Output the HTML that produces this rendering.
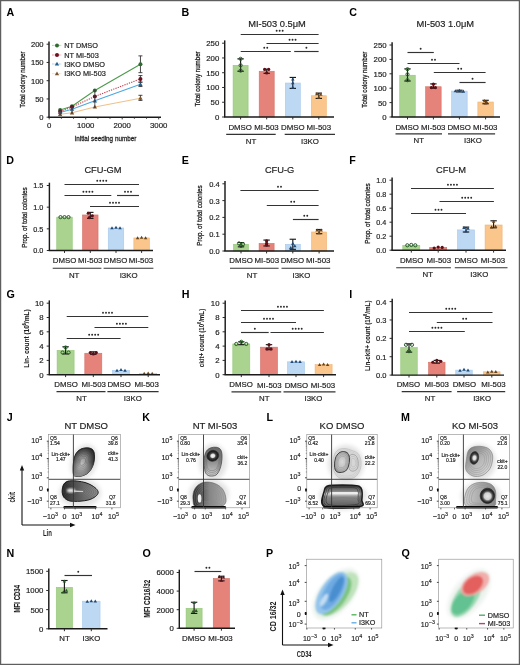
<!DOCTYPE html>
<html><head><meta charset="utf-8"><style>html,body{margin:0;padding:0;background:#fff;overflow:hidden}svg text{font-family:"Liberation Sans",sans-serif}</style></head>
<body>
<div style="position:relative;width:520px;height:665px;overflow:hidden;background:#fff">
<svg width="520" height="665" viewBox="0 0 520 665" font-family='"Liberation Sans", sans-serif' style="display:block;filter:blur(0.35px)">
<rect x="0" y="0" width="520" height="665" fill="#fff"/>
<text x="6.50" y="15.80" font-size="10.7" text-anchor="start" font-weight="bold" fill="#000" stroke="#000" stroke-width="0" >A</text>
<line x1="49.00" y1="117.20" x2="49.00" y2="41.50" stroke="#1a1a1a" stroke-width="1.45" />
<line x1="46.60" y1="117.20" x2="49.20" y2="117.20" stroke="#2a2a2a" stroke-width="1.0" />
<text x="43.60" y="120.10" font-size="7.6" text-anchor="end" font-weight="normal" fill="#1e1e1e" stroke="#1e1e1e" stroke-width="0.18" >0</text>
<line x1="46.60" y1="98.95" x2="49.20" y2="98.95" stroke="#2a2a2a" stroke-width="1.0" />
<text x="43.60" y="101.85" font-size="7.6" text-anchor="end" font-weight="normal" fill="#1e1e1e" stroke="#1e1e1e" stroke-width="0.18" >50</text>
<line x1="46.60" y1="80.70" x2="49.20" y2="80.70" stroke="#2a2a2a" stroke-width="1.0" />
<text x="43.60" y="83.60" font-size="7.6" text-anchor="end" font-weight="normal" fill="#1e1e1e" stroke="#1e1e1e" stroke-width="0.18" >100</text>
<line x1="46.60" y1="62.45" x2="49.20" y2="62.45" stroke="#2a2a2a" stroke-width="1.0" />
<text x="43.60" y="65.35" font-size="7.6" text-anchor="end" font-weight="normal" fill="#1e1e1e" stroke="#1e1e1e" stroke-width="0.18" >150</text>
<line x1="46.60" y1="44.20" x2="49.20" y2="44.20" stroke="#2a2a2a" stroke-width="1.0" />
<text x="43.60" y="47.10" font-size="7.6" text-anchor="end" font-weight="normal" fill="#1e1e1e" stroke="#1e1e1e" stroke-width="0.18" >200</text>
<line x1="48.30" y1="117.20" x2="161.00" y2="117.20" stroke="#1a1a1a" stroke-width="1.45" />
<line x1="49.20" y1="117.20" x2="49.20" y2="119.40" stroke="#2a2a2a" stroke-width="0.9" />
<line x1="61.37" y1="117.20" x2="61.37" y2="118.80" stroke="#2a2a2a" stroke-width="0.9" />
<line x1="73.53" y1="117.20" x2="73.53" y2="118.80" stroke="#2a2a2a" stroke-width="0.9" />
<line x1="85.70" y1="117.20" x2="85.70" y2="119.40" stroke="#2a2a2a" stroke-width="0.9" />
<line x1="97.87" y1="117.20" x2="97.87" y2="118.80" stroke="#2a2a2a" stroke-width="0.9" />
<line x1="110.03" y1="117.20" x2="110.03" y2="118.80" stroke="#2a2a2a" stroke-width="0.9" />
<line x1="122.20" y1="117.20" x2="122.20" y2="119.40" stroke="#2a2a2a" stroke-width="0.9" />
<line x1="134.37" y1="117.20" x2="134.37" y2="118.80" stroke="#2a2a2a" stroke-width="0.9" />
<line x1="146.53" y1="117.20" x2="146.53" y2="118.80" stroke="#2a2a2a" stroke-width="0.9" />
<line x1="158.70" y1="117.20" x2="158.70" y2="119.40" stroke="#2a2a2a" stroke-width="0.9" />
<text x="49.20" y="127.90" font-size="7.8" text-anchor="middle" font-weight="normal" fill="#1e1e1e" stroke="#1e1e1e" stroke-width="0.18" >0</text>
<text x="85.70" y="127.90" font-size="7.8" text-anchor="middle" font-weight="normal" fill="#1e1e1e" stroke="#1e1e1e" stroke-width="0.18" >1000</text>
<text x="122.20" y="127.90" font-size="7.8" text-anchor="middle" font-weight="normal" fill="#1e1e1e" stroke="#1e1e1e" stroke-width="0.18" >2000</text>
<text x="158.70" y="127.90" font-size="7.8" text-anchor="middle" font-weight="normal" fill="#1e1e1e" stroke="#1e1e1e" stroke-width="0.18" >3000</text>
<polyline points="60.15,109.90 72.01,106.25 94.83,90.56 140.45,64.28" fill="none" stroke="#4a9a4a" stroke-width="1.05" stroke-dasharray="none"/>
<polyline points="60.15,111.73 72.01,106.98 94.83,96.40 140.45,78.88" fill="none" stroke="#c8384a" stroke-width="1.05" stroke-dasharray="1.3,1.1"/>
<polyline points="60.15,112.45 72.01,109.17 94.83,100.78 140.45,84.35" fill="none" stroke="#4aa8e0" stroke-width="1.05" stroke-dasharray="none"/>
<polyline points="60.15,114.28 72.01,112.82 94.83,106.98 140.45,98.22" fill="none" stroke="#f2c08a" stroke-width="1.05" stroke-dasharray="none"/>
<circle cx="60.15" cy="109.90" r="2.0" fill="#2f6a2f"/>
<circle cx="72.01" cy="106.25" r="2.0" fill="#2f6a2f"/>
<circle cx="94.83" cy="90.56" r="2.0" fill="#2f6a2f"/>
<line x1="140.45" y1="72.67" x2="140.45" y2="55.88" stroke="#333" stroke-width="0.9" />
<line x1="138.45" y1="55.88" x2="142.45" y2="55.88" stroke="#333" stroke-width="0.9" />
<line x1="138.45" y1="72.67" x2="142.45" y2="72.67" stroke="#333" stroke-width="0.9" />
<circle cx="140.45" cy="64.28" r="2.0" fill="#2f6a2f"/>
<circle cx="60.15" cy="111.73" r="2.0" fill="#6e1020"/>
<circle cx="72.01" cy="106.98" r="2.0" fill="#6e1020"/>
<circle cx="94.83" cy="96.40" r="2.0" fill="#6e1020"/>
<line x1="140.45" y1="82.16" x2="140.45" y2="75.59" stroke="#333" stroke-width="0.9" />
<line x1="138.45" y1="75.59" x2="142.45" y2="75.59" stroke="#333" stroke-width="0.9" />
<line x1="138.45" y1="82.16" x2="142.45" y2="82.16" stroke="#333" stroke-width="0.9" />
<circle cx="140.45" cy="78.88" r="2.0" fill="#6e1020"/>
<path d="M57.95,114.05 L62.35,114.05 L60.15,110.25 Z" fill="#24608f"/>
<path d="M69.81,110.77 L74.21,110.77 L72.01,106.97 Z" fill="#24608f"/>
<path d="M92.62,102.38 L97.03,102.38 L94.83,98.58 Z" fill="#24608f"/>
<line x1="140.45" y1="86.54" x2="140.45" y2="82.16" stroke="#333" stroke-width="0.9" />
<line x1="138.45" y1="82.16" x2="142.45" y2="82.16" stroke="#333" stroke-width="0.9" />
<line x1="138.45" y1="86.54" x2="142.45" y2="86.54" stroke="#333" stroke-width="0.9" />
<path d="M138.25,85.95 L142.65,85.95 L140.45,82.15 Z" fill="#24608f"/>
<path d="M57.95,115.88 L62.35,115.88 L60.15,112.08 Z" fill="#7a5530"/>
<path d="M69.81,114.42 L74.21,114.42 L72.01,110.62 Z" fill="#7a5530"/>
<path d="M92.62,108.58 L97.03,108.58 L94.83,104.78 Z" fill="#7a5530"/>
<line x1="140.45" y1="100.41" x2="140.45" y2="95.30" stroke="#333" stroke-width="0.9" />
<line x1="138.45" y1="95.30" x2="142.45" y2="95.30" stroke="#333" stroke-width="0.9" />
<line x1="138.45" y1="100.41" x2="142.45" y2="100.41" stroke="#333" stroke-width="0.9" />
<path d="M138.25,99.82 L142.65,99.82 L140.45,96.02 Z" fill="#7a5530"/>
<line x1="60.15" y1="115.01" x2="60.15" y2="109.17" stroke="#333" stroke-width="0.8" />
<line x1="72.01" y1="113.55" x2="72.01" y2="105.52" stroke="#333" stroke-width="0.8" />
<line x1="94.83" y1="108.08" x2="94.83" y2="89.46" stroke="#333" stroke-width="0.8" />
<line x1="52.30" y1="45.40" x2="61.70" y2="45.40" stroke="#7fc07f" stroke-width="1.0" stroke-dasharray="1.3,1"/>
<circle cx="57.00" cy="45.40" r="2.0" fill="#2f6a2f"/>
<text x="64.20" y="48.10" font-size="7.35" text-anchor="start" font-weight="normal" fill="#1e1e1e" stroke="#1e1e1e" stroke-width="0.18" >NT DMSO</text>
<line x1="52.30" y1="55.00" x2="61.70" y2="55.00" stroke="#e07080" stroke-width="1.0" stroke-dasharray="1.3,1"/>
<circle cx="57.00" cy="55.00" r="2.0" fill="#6e1020"/>
<text x="64.20" y="57.70" font-size="7.35" text-anchor="start" font-weight="normal" fill="#1e1e1e" stroke="#1e1e1e" stroke-width="0.18" >NT MI-503</text>
<line x1="52.30" y1="64.00" x2="61.70" y2="64.00" stroke="#7fc0e8" stroke-width="1.0" stroke-dasharray="1.3,1"/>
<path d="M54.80,65.60 L59.20,65.60 L57.00,61.80 Z" fill="#24608f"/>
<text x="64.20" y="66.70" font-size="7.35" text-anchor="start" font-weight="normal" fill="#1e1e1e" stroke="#1e1e1e" stroke-width="0.18" >I3KO DMSO</text>
<line x1="52.30" y1="73.70" x2="61.70" y2="73.70" stroke="#f5cc9a" stroke-width="1.0" stroke-dasharray="1.3,1"/>
<path d="M54.80,75.30 L59.20,75.30 L57.00,71.50 Z" fill="#7a5530"/>
<text x="64.20" y="76.40" font-size="7.35" text-anchor="start" font-weight="normal" fill="#1e1e1e" stroke="#1e1e1e" stroke-width="0.18" >I3KO MI-503</text>
<text x="0" y="0" font-size="8" text-anchor="middle" fill="#1e1e1e" stroke="#1e1e1e" stroke-width="0.3" textLength="56.4" lengthAdjust="spacingAndGlyphs" transform="translate(25.2,79.5) rotate(-90)">Total colony number</text>
<text x="105.4" y="141.3" font-size="8" text-anchor="middle" fill="#1e1e1e" stroke="#1e1e1e" stroke-width="0.3" textLength="61.8" lengthAdjust="spacingAndGlyphs">Initial seeding number</text>
<text x="181.50" y="15.80" font-size="10.7" text-anchor="start" font-weight="bold" fill="#000" stroke="#000" stroke-width="0" >B</text>
<rect x="233.10" y="65.34" width="15.00" height="51.66" fill="#a9d38f" stroke="#93c677" stroke-width="0.6"/>
<rect x="259.20" y="71.24" width="15.00" height="45.76" fill="#e5837a" stroke="#d36f64" stroke-width="0.6"/>
<rect x="285.30" y="83.05" width="15.00" height="33.95" fill="#bdd8f2" stroke="#a5c8eb" stroke-width="0.6"/>
<rect x="311.30" y="95.75" width="15.00" height="21.25" fill="#fac68c" stroke="#efb273" stroke-width="0.6"/>
<line x1="240.60" y1="71.24" x2="240.60" y2="58.85" stroke="#1a1a1a" stroke-width="1.15" />
<line x1="237.40" y1="58.85" x2="243.80" y2="58.85" stroke="#1a1a1a" stroke-width="1.15" />
<line x1="237.40" y1="71.24" x2="243.80" y2="71.24" stroke="#1a1a1a" stroke-width="1.15" />
<circle cx="240.60" cy="58.85" r="1.6" fill="none" stroke="#255a25" stroke-width="1.0"/>
<circle cx="240.60" cy="65.34" r="1.6" fill="none" stroke="#255a25" stroke-width="1.0"/>
<circle cx="240.60" cy="70.65" r="1.6" fill="none" stroke="#255a25" stroke-width="1.0"/>
<line x1="266.70" y1="73.31" x2="266.70" y2="69.18" stroke="#1a1a1a" stroke-width="1.15" />
<line x1="263.50" y1="69.18" x2="269.90" y2="69.18" stroke="#1a1a1a" stroke-width="1.15" />
<line x1="263.50" y1="73.31" x2="269.90" y2="73.31" stroke="#1a1a1a" stroke-width="1.15" />
<circle cx="264.70" cy="69.47" r="1.6" fill="#5e0e16"/>
<circle cx="268.70" cy="69.47" r="1.6" fill="#5e0e16"/>
<circle cx="266.70" cy="73.02" r="1.6" fill="#5e0e16"/>
<line x1="292.80" y1="88.37" x2="292.80" y2="77.44" stroke="#1a1a1a" stroke-width="1.15" />
<line x1="289.60" y1="77.44" x2="296.00" y2="77.44" stroke="#1a1a1a" stroke-width="1.15" />
<line x1="289.60" y1="88.37" x2="296.00" y2="88.37" stroke="#1a1a1a" stroke-width="1.15" />
<path d="M291.04,80.49 L294.56,80.49 L292.80,77.45 Z" fill="#1d4a78"/>
<path d="M291.04,84.33 L294.56,84.33 L292.80,81.29 Z" fill="#1d4a78"/>
<path d="M291.04,88.76 L294.56,88.76 L292.80,85.72 Z" fill="#1d4a78"/>
<line x1="318.80" y1="98.40" x2="318.80" y2="93.09" stroke="#1a1a1a" stroke-width="1.15" />
<line x1="315.60" y1="93.09" x2="322.00" y2="93.09" stroke="#1a1a1a" stroke-width="1.15" />
<line x1="315.60" y1="98.40" x2="322.00" y2="98.40" stroke="#1a1a1a" stroke-width="1.15" />
<path d="M315.04,95.25 L318.56,95.25 L316.80,92.21 Z" fill="#6a4418"/>
<path d="M319.04,95.84 L322.56,95.84 L320.80,92.80 Z" fill="#6a4418"/>
<path d="M317.04,98.80 L320.56,98.80 L318.80,95.76 Z" fill="#6a4418"/>
<line x1="224.70" y1="117.00" x2="224.70" y2="40.40" stroke="#1a1a1a" stroke-width="1.45" />
<line x1="222.10" y1="117.00" x2="224.70" y2="117.00" stroke="#2a2a2a" stroke-width="1.0" />
<text x="219.30" y="119.90" font-size="7.8" text-anchor="end" font-weight="normal" fill="#1e1e1e" stroke="#1e1e1e" stroke-width="0.18" >0</text>
<line x1="222.10" y1="102.24" x2="224.70" y2="102.24" stroke="#2a2a2a" stroke-width="1.0" />
<text x="219.30" y="105.14" font-size="7.8" text-anchor="end" font-weight="normal" fill="#1e1e1e" stroke="#1e1e1e" stroke-width="0.18" >50</text>
<line x1="222.10" y1="87.48" x2="224.70" y2="87.48" stroke="#2a2a2a" stroke-width="1.0" />
<text x="219.30" y="90.38" font-size="7.8" text-anchor="end" font-weight="normal" fill="#1e1e1e" stroke="#1e1e1e" stroke-width="0.18" >100</text>
<line x1="222.10" y1="72.72" x2="224.70" y2="72.72" stroke="#2a2a2a" stroke-width="1.0" />
<text x="219.30" y="75.62" font-size="7.8" text-anchor="end" font-weight="normal" fill="#1e1e1e" stroke="#1e1e1e" stroke-width="0.18" >150</text>
<line x1="222.10" y1="57.96" x2="224.70" y2="57.96" stroke="#2a2a2a" stroke-width="1.0" />
<text x="219.30" y="60.86" font-size="7.8" text-anchor="end" font-weight="normal" fill="#1e1e1e" stroke="#1e1e1e" stroke-width="0.18" >200</text>
<line x1="222.10" y1="43.20" x2="224.70" y2="43.20" stroke="#2a2a2a" stroke-width="1.0" />
<text x="219.30" y="46.10" font-size="7.8" text-anchor="end" font-weight="normal" fill="#1e1e1e" stroke="#1e1e1e" stroke-width="0.18" >250</text>
<line x1="224.00" y1="117.00" x2="334.00" y2="117.00" stroke="#1a1a1a" stroke-width="1.45" />
<line x1="240.60" y1="117.00" x2="240.60" y2="119.40" stroke="#2a2a2a" stroke-width="1.0" />
<line x1="266.70" y1="117.00" x2="266.70" y2="119.40" stroke="#2a2a2a" stroke-width="1.0" />
<line x1="292.80" y1="117.00" x2="292.80" y2="119.40" stroke="#2a2a2a" stroke-width="1.0" />
<line x1="318.80" y1="117.00" x2="318.80" y2="119.40" stroke="#2a2a2a" stroke-width="1.0" />
<line x1="240.70" y1="34.50" x2="318.60" y2="34.50" stroke="#333" stroke-width="1.15" />
<circle cx="276.65" cy="30.70" r="0.95" fill="#2a2a2a"/>
<circle cx="279.65" cy="30.70" r="0.95" fill="#2a2a2a"/>
<circle cx="282.65" cy="30.70" r="0.95" fill="#2a2a2a"/>
<line x1="266.50" y1="43.50" x2="318.60" y2="43.50" stroke="#333" stroke-width="1.15" />
<circle cx="289.55" cy="39.70" r="0.95" fill="#2a2a2a"/>
<circle cx="292.55" cy="39.70" r="0.95" fill="#2a2a2a"/>
<circle cx="295.55" cy="39.70" r="0.95" fill="#2a2a2a"/>
<line x1="240.70" y1="51.50" x2="290.80" y2="51.50" stroke="#333" stroke-width="1.15" />
<circle cx="264.25" cy="47.70" r="0.95" fill="#2a2a2a"/>
<circle cx="267.25" cy="47.70" r="0.95" fill="#2a2a2a"/>
<line x1="294.20" y1="51.50" x2="318.60" y2="51.50" stroke="#333" stroke-width="1.15" />
<circle cx="306.40" cy="47.70" r="0.95" fill="#2a2a2a"/>
<text x="240.20" y="129.80" font-size="7.85" text-anchor="middle" font-weight="normal" fill="#1e1e1e" stroke="#1e1e1e" stroke-width="0.18" >DMSO</text>
<text x="266.50" y="129.80" font-size="7.85" text-anchor="middle" font-weight="normal" fill="#1e1e1e" stroke="#1e1e1e" stroke-width="0.18" >MI-503</text>
<text x="292.80" y="129.80" font-size="7.85" text-anchor="middle" font-weight="normal" fill="#1e1e1e" stroke="#1e1e1e" stroke-width="0.18" >DMSO</text>
<text x="318.80" y="129.80" font-size="7.85" text-anchor="middle" font-weight="normal" fill="#1e1e1e" stroke="#1e1e1e" stroke-width="0.18" >MI-503</text>
<line x1="226.20" y1="134.40" x2="275.70" y2="134.40" stroke="#333" stroke-width="1.1" />
<text x="251.00" y="144.10" font-size="7.85" text-anchor="middle" font-weight="normal" fill="#1e1e1e" stroke="#1e1e1e" stroke-width="0.18" >NT</text>
<line x1="284.70" y1="134.40" x2="335.00" y2="134.40" stroke="#333" stroke-width="1.1" />
<text x="310.00" y="144.10" font-size="7.85" text-anchor="middle" font-weight="normal" fill="#1e1e1e" stroke="#1e1e1e" stroke-width="0.18" >I3KO</text>
<text x="277.00" y="26.90" font-size="9.3" text-anchor="middle" font-weight="normal" fill="#1e1e1e" stroke="#1e1e1e" stroke-width="0.18" >MI-503 0.5&#956;M</text>
<text x="0" y="0" font-size="8" font-weight="normal" text-anchor="middle" fill="#1e1e1e" stroke="#1e1e1e" stroke-width="0.3" textLength="55" lengthAdjust="spacingAndGlyphs" transform="translate(200.40,78.90) rotate(-90)">Total colony number</text>
<text x="349.30" y="15.80" font-size="10.7" text-anchor="start" font-weight="bold" fill="#000" stroke="#000" stroke-width="0" >C</text>
<rect x="399.75" y="75.24" width="15.50" height="41.76" fill="#a9d38f" stroke="#93c677" stroke-width="0.6"/>
<rect x="425.65" y="86.76" width="15.50" height="30.24" fill="#e5837a" stroke="#d36f64" stroke-width="0.6"/>
<rect x="451.65" y="91.08" width="15.50" height="25.92" fill="#bdd8f2" stroke="#a5c8eb" stroke-width="0.6"/>
<rect x="477.85" y="102.02" width="15.50" height="14.98" fill="#fac68c" stroke="#efb273" stroke-width="0.6"/>
<line x1="407.50" y1="81.00" x2="407.50" y2="68.90" stroke="#1a1a1a" stroke-width="1.15" />
<line x1="404.30" y1="68.90" x2="410.70" y2="68.90" stroke="#1a1a1a" stroke-width="1.15" />
<line x1="404.30" y1="81.00" x2="410.70" y2="81.00" stroke="#1a1a1a" stroke-width="1.15" />
<circle cx="407.50" cy="69.19" r="1.6" fill="none" stroke="#255a25" stroke-width="1.0"/>
<circle cx="407.50" cy="74.38" r="1.6" fill="none" stroke="#255a25" stroke-width="1.0"/>
<circle cx="407.50" cy="80.14" r="1.6" fill="none" stroke="#255a25" stroke-width="1.0"/>
<line x1="433.40" y1="88.20" x2="433.40" y2="83.88" stroke="#1a1a1a" stroke-width="1.15" />
<line x1="430.20" y1="83.88" x2="436.60" y2="83.88" stroke="#1a1a1a" stroke-width="1.15" />
<line x1="430.20" y1="88.20" x2="436.60" y2="88.20" stroke="#1a1a1a" stroke-width="1.15" />
<circle cx="433.40" cy="84.17" r="1.6" fill="#5e0e16"/>
<circle cx="431.40" cy="87.62" r="1.6" fill="#5e0e16"/>
<circle cx="435.40" cy="87.62" r="1.6" fill="#5e0e16"/>
<line x1="459.40" y1="91.94" x2="459.40" y2="90.22" stroke="#1a1a1a" stroke-width="1.15" />
<line x1="456.20" y1="90.22" x2="462.60" y2="90.22" stroke="#1a1a1a" stroke-width="1.15" />
<line x1="456.20" y1="91.94" x2="462.60" y2="91.94" stroke="#1a1a1a" stroke-width="1.15" />
<path d="M453.64,92.36 L457.16,92.36 L455.40,89.32 Z" fill="#1d4a78"/>
<path d="M457.64,91.78 L461.16,91.78 L459.40,88.74 Z" fill="#1d4a78"/>
<path d="M461.64,92.65 L465.16,92.65 L463.40,89.61 Z" fill="#1d4a78"/>
<line x1="485.60" y1="103.75" x2="485.60" y2="100.30" stroke="#1a1a1a" stroke-width="1.15" />
<line x1="482.40" y1="100.30" x2="488.80" y2="100.30" stroke="#1a1a1a" stroke-width="1.15" />
<line x1="482.40" y1="103.75" x2="488.80" y2="103.75" stroke="#1a1a1a" stroke-width="1.15" />
<path d="M482.84,102.15 L486.36,102.15 L484.60,99.11 Z" fill="#6a4418"/>
<path d="M484.84,103.30 L488.36,103.30 L486.60,100.26 Z" fill="#6a4418"/>
<path d="M483.84,104.46 L487.36,104.46 L485.60,101.42 Z" fill="#6a4418"/>
<line x1="392.10" y1="117.00" x2="392.10" y2="42.20" stroke="#1a1a1a" stroke-width="1.45" />
<line x1="389.50" y1="117.00" x2="392.10" y2="117.00" stroke="#2a2a2a" stroke-width="1.0" />
<text x="386.60" y="119.90" font-size="7.8" text-anchor="end" font-weight="normal" fill="#1e1e1e" stroke="#1e1e1e" stroke-width="0.18" >0</text>
<line x1="389.50" y1="102.60" x2="392.10" y2="102.60" stroke="#2a2a2a" stroke-width="1.0" />
<text x="386.60" y="105.50" font-size="7.8" text-anchor="end" font-weight="normal" fill="#1e1e1e" stroke="#1e1e1e" stroke-width="0.18" >50</text>
<line x1="389.50" y1="88.20" x2="392.10" y2="88.20" stroke="#2a2a2a" stroke-width="1.0" />
<text x="386.60" y="91.10" font-size="7.8" text-anchor="end" font-weight="normal" fill="#1e1e1e" stroke="#1e1e1e" stroke-width="0.18" >100</text>
<line x1="389.50" y1="73.80" x2="392.10" y2="73.80" stroke="#2a2a2a" stroke-width="1.0" />
<text x="386.60" y="76.70" font-size="7.8" text-anchor="end" font-weight="normal" fill="#1e1e1e" stroke="#1e1e1e" stroke-width="0.18" >150</text>
<line x1="389.50" y1="59.40" x2="392.10" y2="59.40" stroke="#2a2a2a" stroke-width="1.0" />
<text x="386.60" y="62.30" font-size="7.8" text-anchor="end" font-weight="normal" fill="#1e1e1e" stroke="#1e1e1e" stroke-width="0.18" >200</text>
<line x1="389.50" y1="45.00" x2="392.10" y2="45.00" stroke="#2a2a2a" stroke-width="1.0" />
<text x="386.60" y="47.90" font-size="7.8" text-anchor="end" font-weight="normal" fill="#1e1e1e" stroke="#1e1e1e" stroke-width="0.18" >250</text>
<line x1="391.40" y1="117.00" x2="500.00" y2="117.00" stroke="#1a1a1a" stroke-width="1.45" />
<line x1="407.50" y1="117.00" x2="407.50" y2="119.40" stroke="#2a2a2a" stroke-width="1.0" />
<line x1="433.40" y1="117.00" x2="433.40" y2="119.40" stroke="#2a2a2a" stroke-width="1.0" />
<line x1="459.40" y1="117.00" x2="459.40" y2="119.40" stroke="#2a2a2a" stroke-width="1.0" />
<line x1="485.60" y1="117.00" x2="485.60" y2="119.40" stroke="#2a2a2a" stroke-width="1.0" />
<line x1="407.50" y1="52.50" x2="433.80" y2="52.50" stroke="#333" stroke-width="1.15" />
<circle cx="420.65" cy="48.70" r="0.95" fill="#2a2a2a"/>
<line x1="407.50" y1="63.50" x2="459.50" y2="63.50" stroke="#333" stroke-width="1.15" />
<circle cx="432.00" cy="59.70" r="0.95" fill="#2a2a2a"/>
<circle cx="435.00" cy="59.70" r="0.95" fill="#2a2a2a"/>
<line x1="433.80" y1="72.50" x2="485.60" y2="72.50" stroke="#333" stroke-width="1.15" />
<circle cx="458.20" cy="68.70" r="0.95" fill="#2a2a2a"/>
<circle cx="461.20" cy="68.70" r="0.95" fill="#2a2a2a"/>
<line x1="459.50" y1="82.50" x2="485.60" y2="82.50" stroke="#333" stroke-width="1.15" />
<circle cx="472.55" cy="78.70" r="0.95" fill="#2a2a2a"/>
<text x="407.20" y="129.50" font-size="7.85" text-anchor="middle" font-weight="normal" fill="#1e1e1e" stroke="#1e1e1e" stroke-width="0.18" >DMSO</text>
<text x="433.20" y="129.50" font-size="7.85" text-anchor="middle" font-weight="normal" fill="#1e1e1e" stroke="#1e1e1e" stroke-width="0.18" >MI-503</text>
<text x="459.20" y="129.50" font-size="7.85" text-anchor="middle" font-weight="normal" fill="#1e1e1e" stroke="#1e1e1e" stroke-width="0.18" >DMSO</text>
<text x="485.20" y="129.50" font-size="7.85" text-anchor="middle" font-weight="normal" fill="#1e1e1e" stroke="#1e1e1e" stroke-width="0.18" >MI-503</text>
<line x1="395.50" y1="133.90" x2="442.00" y2="133.90" stroke="#333" stroke-width="1.1" />
<text x="418.80" y="143.30" font-size="7.85" text-anchor="middle" font-weight="normal" fill="#1e1e1e" stroke="#1e1e1e" stroke-width="0.18" >NT</text>
<line x1="448.00" y1="133.90" x2="495.10" y2="133.90" stroke="#333" stroke-width="1.1" />
<text x="473.00" y="143.30" font-size="7.85" text-anchor="middle" font-weight="normal" fill="#1e1e1e" stroke="#1e1e1e" stroke-width="0.18" >I3KO</text>
<text x="445.30" y="27.00" font-size="9.3" text-anchor="middle" font-weight="normal" fill="#1e1e1e" stroke="#1e1e1e" stroke-width="0.18" >MI-503 1.0&#956;M</text>
<text x="0" y="0" font-size="8" font-weight="normal" text-anchor="middle" fill="#1e1e1e" stroke="#1e1e1e" stroke-width="0.3" textLength="55.9" lengthAdjust="spacingAndGlyphs" transform="translate(367.40,79.70) rotate(-90)">Total colony number</text>
<text x="6.30" y="163.90" font-size="10.7" text-anchor="start" font-weight="bold" fill="#000" stroke="#000" stroke-width="0" >D</text>
<rect x="56.75" y="217.13" width="15.50" height="33.37" fill="#a9d38f" stroke="#93c677" stroke-width="0.6"/>
<rect x="82.55" y="214.97" width="15.50" height="35.53" fill="#e5837a" stroke="#d36f64" stroke-width="0.6"/>
<rect x="108.25" y="227.97" width="15.50" height="22.53" fill="#bdd8f2" stroke="#a5c8eb" stroke-width="0.6"/>
<rect x="133.85" y="237.93" width="15.50" height="12.57" fill="#fac68c" stroke="#efb273" stroke-width="0.6"/>
<circle cx="60.50" cy="217.13" r="1.6" fill="none" stroke="#255a25" stroke-width="1.0"/>
<circle cx="64.50" cy="217.13" r="1.6" fill="none" stroke="#255a25" stroke-width="1.0"/>
<circle cx="68.50" cy="217.13" r="1.6" fill="none" stroke="#255a25" stroke-width="1.0"/>
<line x1="90.30" y1="218.43" x2="90.30" y2="212.37" stroke="#1a1a1a" stroke-width="1.15" />
<line x1="87.10" y1="212.37" x2="93.50" y2="212.37" stroke="#1a1a1a" stroke-width="1.15" />
<line x1="87.10" y1="218.43" x2="93.50" y2="218.43" stroke="#1a1a1a" stroke-width="1.15" />
<circle cx="88.30" cy="213.23" r="1.6" fill="#5e0e16"/>
<circle cx="92.30" cy="215.83" r="1.6" fill="#5e0e16"/>
<circle cx="89.30" cy="217.57" r="1.6" fill="#5e0e16"/>
<path d="M110.24,229.25 L113.76,229.25 L112.00,226.21 Z" fill="#1d4a78"/>
<path d="M114.24,228.81 L117.76,228.81 L116.00,225.77 Z" fill="#1d4a78"/>
<path d="M118.24,229.25 L121.76,229.25 L120.00,226.21 Z" fill="#1d4a78"/>
<path d="M135.84,239.21 L139.36,239.21 L137.60,236.17 Z" fill="#6a4418"/>
<path d="M139.84,238.78 L143.36,238.78 L141.60,235.74 Z" fill="#6a4418"/>
<path d="M143.84,239.21 L147.36,239.21 L145.60,236.17 Z" fill="#6a4418"/>
<line x1="49.40" y1="250.50" x2="49.40" y2="182.70" stroke="#1a1a1a" stroke-width="1.45" />
<line x1="46.80" y1="250.50" x2="49.40" y2="250.50" stroke="#2a2a2a" stroke-width="1.0" />
<text x="43.40" y="253.40" font-size="7.3" text-anchor="end" font-weight="normal" fill="#1e1e1e" stroke="#1e1e1e" stroke-width="0.18" >0.0</text>
<line x1="46.80" y1="228.83" x2="49.40" y2="228.83" stroke="#2a2a2a" stroke-width="1.0" />
<text x="43.40" y="231.73" font-size="7.3" text-anchor="end" font-weight="normal" fill="#1e1e1e" stroke="#1e1e1e" stroke-width="0.18" >0.5</text>
<line x1="46.80" y1="207.17" x2="49.40" y2="207.17" stroke="#2a2a2a" stroke-width="1.0" />
<text x="43.40" y="210.07" font-size="7.3" text-anchor="end" font-weight="normal" fill="#1e1e1e" stroke="#1e1e1e" stroke-width="0.18" >1.0</text>
<line x1="46.80" y1="185.50" x2="49.40" y2="185.50" stroke="#2a2a2a" stroke-width="1.0" />
<text x="43.40" y="188.40" font-size="7.3" text-anchor="end" font-weight="normal" fill="#1e1e1e" stroke="#1e1e1e" stroke-width="0.18" >1.5</text>
<line x1="48.70" y1="250.50" x2="153.00" y2="250.50" stroke="#1a1a1a" stroke-width="1.45" />
<line x1="64.50" y1="250.50" x2="64.50" y2="252.90" stroke="#2a2a2a" stroke-width="1.0" />
<line x1="90.30" y1="250.50" x2="90.30" y2="252.90" stroke="#2a2a2a" stroke-width="1.0" />
<line x1="116.00" y1="250.50" x2="116.00" y2="252.90" stroke="#2a2a2a" stroke-width="1.0" />
<line x1="141.60" y1="250.50" x2="141.60" y2="252.90" stroke="#2a2a2a" stroke-width="1.0" />
<line x1="64.50" y1="184.50" x2="139.00" y2="184.50" stroke="#333" stroke-width="1.15" />
<circle cx="97.25" cy="180.70" r="0.95" fill="#2a2a2a"/>
<circle cx="100.25" cy="180.70" r="0.95" fill="#2a2a2a"/>
<circle cx="103.25" cy="180.70" r="0.95" fill="#2a2a2a"/>
<circle cx="106.25" cy="180.70" r="0.95" fill="#2a2a2a"/>
<line x1="64.50" y1="195.50" x2="111.30" y2="195.50" stroke="#333" stroke-width="1.15" />
<circle cx="83.40" cy="191.70" r="0.95" fill="#2a2a2a"/>
<circle cx="86.40" cy="191.70" r="0.95" fill="#2a2a2a"/>
<circle cx="89.40" cy="191.70" r="0.95" fill="#2a2a2a"/>
<circle cx="92.40" cy="191.70" r="0.95" fill="#2a2a2a"/>
<line x1="117.00" y1="195.50" x2="139.00" y2="195.50" stroke="#333" stroke-width="1.15" />
<circle cx="125.00" cy="191.70" r="0.95" fill="#2a2a2a"/>
<circle cx="128.00" cy="191.70" r="0.95" fill="#2a2a2a"/>
<circle cx="131.00" cy="191.70" r="0.95" fill="#2a2a2a"/>
<line x1="90.00" y1="206.50" x2="139.00" y2="206.50" stroke="#333" stroke-width="1.15" />
<circle cx="110.00" cy="202.70" r="0.95" fill="#2a2a2a"/>
<circle cx="113.00" cy="202.70" r="0.95" fill="#2a2a2a"/>
<circle cx="116.00" cy="202.70" r="0.95" fill="#2a2a2a"/>
<circle cx="119.00" cy="202.70" r="0.95" fill="#2a2a2a"/>
<text x="64.60" y="263.20" font-size="7.85" text-anchor="middle" font-weight="normal" fill="#1e1e1e" stroke="#1e1e1e" stroke-width="0.18" >DMSO</text>
<text x="90.20" y="263.20" font-size="7.85" text-anchor="middle" font-weight="normal" fill="#1e1e1e" stroke="#1e1e1e" stroke-width="0.18" >MI-503</text>
<text x="115.50" y="263.20" font-size="7.85" text-anchor="middle" font-weight="normal" fill="#1e1e1e" stroke="#1e1e1e" stroke-width="0.18" >DMSO</text>
<text x="141.00" y="263.20" font-size="7.85" text-anchor="middle" font-weight="normal" fill="#1e1e1e" stroke="#1e1e1e" stroke-width="0.18" >MI-503</text>
<line x1="52.70" y1="268.30" x2="101.40" y2="268.30" stroke="#333" stroke-width="1.1" />
<text x="74.20" y="277.60" font-size="7.85" text-anchor="middle" font-weight="normal" fill="#1e1e1e" stroke="#1e1e1e" stroke-width="0.18" >NT</text>
<line x1="103.60" y1="268.30" x2="153.40" y2="268.30" stroke="#333" stroke-width="1.1" />
<text x="128.60" y="277.60" font-size="7.85" text-anchor="middle" font-weight="normal" fill="#1e1e1e" stroke="#1e1e1e" stroke-width="0.18" >I3KO</text>
<text x="103.00" y="172.60" font-size="9.3" text-anchor="middle" font-weight="normal" fill="#1e1e1e" stroke="#1e1e1e" stroke-width="0.18" >CFU-GM</text>
<text x="0" y="0" font-size="8" font-weight="normal" text-anchor="middle" fill="#1e1e1e" stroke="#1e1e1e" stroke-width="0.3" textLength="60.4" lengthAdjust="spacingAndGlyphs" transform="translate(26.80,217.50) rotate(-90)">Prop. of total colonies</text>
<text x="181.70" y="163.90" font-size="10.7" text-anchor="start" font-weight="bold" fill="#000" stroke="#000" stroke-width="0" >E</text>
<rect x="233.50" y="244.28" width="15.00" height="6.72" fill="#a9d38f" stroke="#93c677" stroke-width="0.6"/>
<rect x="259.10" y="243.44" width="15.00" height="7.56" fill="#e5837a" stroke="#d36f64" stroke-width="0.6"/>
<rect x="285.30" y="244.28" width="15.00" height="6.72" fill="#bdd8f2" stroke="#a5c8eb" stroke-width="0.6"/>
<rect x="311.60" y="232.02" width="15.00" height="18.98" fill="#fac68c" stroke="#efb273" stroke-width="0.6"/>
<line x1="241.00" y1="246.80" x2="241.00" y2="242.60" stroke="#1a1a1a" stroke-width="1.15" />
<line x1="237.80" y1="242.60" x2="244.20" y2="242.60" stroke="#1a1a1a" stroke-width="1.15" />
<line x1="237.80" y1="246.80" x2="244.20" y2="246.80" stroke="#1a1a1a" stroke-width="1.15" />
<circle cx="239.00" cy="243.44" r="1.6" fill="none" stroke="#255a25" stroke-width="1.0"/>
<circle cx="243.00" cy="244.28" r="1.6" fill="none" stroke="#255a25" stroke-width="1.0"/>
<circle cx="241.00" cy="245.96" r="1.6" fill="none" stroke="#255a25" stroke-width="1.0"/>
<line x1="266.60" y1="245.96" x2="266.60" y2="240.08" stroke="#1a1a1a" stroke-width="1.15" />
<line x1="263.40" y1="240.08" x2="269.80" y2="240.08" stroke="#1a1a1a" stroke-width="1.15" />
<line x1="263.40" y1="245.96" x2="269.80" y2="245.96" stroke="#1a1a1a" stroke-width="1.15" />
<circle cx="266.60" cy="240.92" r="1.6" fill="#5e0e16"/>
<circle cx="266.60" cy="243.44" r="1.6" fill="#5e0e16"/>
<circle cx="266.60" cy="245.12" r="1.6" fill="#5e0e16"/>
<line x1="292.80" y1="249.32" x2="292.80" y2="239.24" stroke="#1a1a1a" stroke-width="1.15" />
<line x1="289.60" y1="239.24" x2="296.00" y2="239.24" stroke="#1a1a1a" stroke-width="1.15" />
<line x1="289.60" y1="249.32" x2="296.00" y2="249.32" stroke="#1a1a1a" stroke-width="1.15" />
<path d="M289.04,248.92 L292.56,248.92 L290.80,245.88 Z" fill="#1d4a78"/>
<path d="M293.04,247.24 L296.56,247.24 L294.80,244.20 Z" fill="#1d4a78"/>
<path d="M291.04,244.72 L294.56,244.72 L292.80,241.68 Z" fill="#1d4a78"/>
<line x1="319.10" y1="233.70" x2="319.10" y2="229.50" stroke="#1a1a1a" stroke-width="1.15" />
<line x1="315.90" y1="229.50" x2="322.30" y2="229.50" stroke="#1a1a1a" stroke-width="1.15" />
<line x1="315.90" y1="233.70" x2="322.30" y2="233.70" stroke="#1a1a1a" stroke-width="1.15" />
<path d="M315.34,231.45 L318.86,231.45 L317.10,228.41 Z" fill="#6a4418"/>
<path d="M319.34,231.45 L322.86,231.45 L321.10,228.41 Z" fill="#6a4418"/>
<path d="M317.34,234.14 L320.86,234.14 L319.10,231.10 Z" fill="#6a4418"/>
<line x1="225.00" y1="251.00" x2="225.00" y2="181.00" stroke="#1a1a1a" stroke-width="1.45" />
<line x1="222.40" y1="251.00" x2="225.00" y2="251.00" stroke="#2a2a2a" stroke-width="1.0" />
<text x="219.60" y="253.90" font-size="7.5" text-anchor="end" font-weight="normal" fill="#1e1e1e" stroke="#1e1e1e" stroke-width="0.18" >0.0</text>
<line x1="222.40" y1="234.20" x2="225.00" y2="234.20" stroke="#2a2a2a" stroke-width="1.0" />
<text x="219.60" y="237.10" font-size="7.5" text-anchor="end" font-weight="normal" fill="#1e1e1e" stroke="#1e1e1e" stroke-width="0.18" >0.1</text>
<line x1="222.40" y1="217.40" x2="225.00" y2="217.40" stroke="#2a2a2a" stroke-width="1.0" />
<text x="219.60" y="220.30" font-size="7.5" text-anchor="end" font-weight="normal" fill="#1e1e1e" stroke="#1e1e1e" stroke-width="0.18" >0.2</text>
<line x1="222.40" y1="200.60" x2="225.00" y2="200.60" stroke="#2a2a2a" stroke-width="1.0" />
<text x="219.60" y="203.50" font-size="7.5" text-anchor="end" font-weight="normal" fill="#1e1e1e" stroke="#1e1e1e" stroke-width="0.18" >0.3</text>
<line x1="222.40" y1="183.80" x2="225.00" y2="183.80" stroke="#2a2a2a" stroke-width="1.0" />
<text x="219.60" y="186.70" font-size="7.5" text-anchor="end" font-weight="normal" fill="#1e1e1e" stroke="#1e1e1e" stroke-width="0.18" >0.4</text>
<line x1="224.30" y1="251.00" x2="334.00" y2="251.00" stroke="#1a1a1a" stroke-width="1.45" />
<line x1="241.00" y1="251.00" x2="241.00" y2="253.40" stroke="#2a2a2a" stroke-width="1.0" />
<line x1="266.60" y1="251.00" x2="266.60" y2="253.40" stroke="#2a2a2a" stroke-width="1.0" />
<line x1="292.80" y1="251.00" x2="292.80" y2="253.40" stroke="#2a2a2a" stroke-width="1.0" />
<line x1="319.10" y1="251.00" x2="319.10" y2="253.40" stroke="#2a2a2a" stroke-width="1.0" />
<line x1="240.40" y1="190.50" x2="318.60" y2="190.50" stroke="#333" stroke-width="1.15" />
<circle cx="278.00" cy="186.70" r="0.95" fill="#2a2a2a"/>
<circle cx="281.00" cy="186.70" r="0.95" fill="#2a2a2a"/>
<line x1="266.80" y1="205.50" x2="318.60" y2="205.50" stroke="#333" stroke-width="1.15" />
<circle cx="291.20" cy="201.70" r="0.95" fill="#2a2a2a"/>
<circle cx="294.20" cy="201.70" r="0.95" fill="#2a2a2a"/>
<line x1="292.90" y1="219.50" x2="318.60" y2="219.50" stroke="#333" stroke-width="1.15" />
<circle cx="304.25" cy="215.70" r="0.95" fill="#2a2a2a"/>
<circle cx="307.25" cy="215.70" r="0.95" fill="#2a2a2a"/>
<text x="241.00" y="263.20" font-size="7.85" text-anchor="middle" font-weight="normal" fill="#1e1e1e" stroke="#1e1e1e" stroke-width="0.18" >DMSO</text>
<text x="266.80" y="263.20" font-size="7.85" text-anchor="middle" font-weight="normal" fill="#1e1e1e" stroke="#1e1e1e" stroke-width="0.18" >MI-503</text>
<text x="292.40" y="263.20" font-size="7.85" text-anchor="middle" font-weight="normal" fill="#1e1e1e" stroke="#1e1e1e" stroke-width="0.18" >DMSO</text>
<text x="318.20" y="263.20" font-size="7.85" text-anchor="middle" font-weight="normal" fill="#1e1e1e" stroke="#1e1e1e" stroke-width="0.18" >MI-503</text>
<line x1="230.00" y1="268.30" x2="278.60" y2="268.30" stroke="#333" stroke-width="1.1" />
<text x="252.10" y="277.60" font-size="7.85" text-anchor="middle" font-weight="normal" fill="#1e1e1e" stroke="#1e1e1e" stroke-width="0.18" >NT</text>
<line x1="281.50" y1="268.30" x2="330.20" y2="268.30" stroke="#333" stroke-width="1.1" />
<text x="301.40" y="277.60" font-size="7.85" text-anchor="middle" font-weight="normal" fill="#1e1e1e" stroke="#1e1e1e" stroke-width="0.18" >I3KO</text>
<text x="279.60" y="173.00" font-size="9.3" text-anchor="middle" font-weight="normal" fill="#1e1e1e" stroke="#1e1e1e" stroke-width="0.18" >CFU-G</text>
<text x="0" y="0" font-size="8" font-weight="normal" text-anchor="middle" fill="#1e1e1e" stroke="#1e1e1e" stroke-width="0.3" textLength="60.4" lengthAdjust="spacingAndGlyphs" transform="translate(202.20,215.50) rotate(-90)">Prop. of total colonies</text>
<text x="349.20" y="163.90" font-size="10.7" text-anchor="start" font-weight="bold" fill="#000" stroke="#000" stroke-width="0" >F</text>
<rect x="402.80" y="245.30" width="17.00" height="4.90" fill="#a9d38f" stroke="#93c677" stroke-width="0.6"/>
<rect x="429.70" y="247.40" width="17.00" height="2.80" fill="#e5837a" stroke="#d36f64" stroke-width="0.6"/>
<rect x="457.50" y="229.90" width="17.00" height="20.30" fill="#bdd8f2" stroke="#a5c8eb" stroke-width="0.6"/>
<rect x="485.10" y="225.00" width="17.00" height="25.20" fill="#fac68c" stroke="#efb273" stroke-width="0.6"/>
<circle cx="407.30" cy="245.30" r="1.6" fill="none" stroke="#255a25" stroke-width="1.0"/>
<circle cx="411.30" cy="244.95" r="1.6" fill="none" stroke="#255a25" stroke-width="1.0"/>
<circle cx="415.30" cy="245.30" r="1.6" fill="none" stroke="#255a25" stroke-width="1.0"/>
<circle cx="434.20" cy="248.10" r="1.6" fill="#5e0e16"/>
<circle cx="438.20" cy="247.05" r="1.6" fill="#5e0e16"/>
<circle cx="442.20" cy="247.40" r="1.6" fill="#5e0e16"/>
<line x1="466.00" y1="232.00" x2="466.00" y2="227.10" stroke="#1a1a1a" stroke-width="1.15" />
<line x1="462.80" y1="227.10" x2="469.20" y2="227.10" stroke="#1a1a1a" stroke-width="1.15" />
<line x1="462.80" y1="232.00" x2="469.20" y2="232.00" stroke="#1a1a1a" stroke-width="1.15" />
<path d="M462.24,229.08 L465.76,229.08 L464.00,226.04 Z" fill="#1d4a78"/>
<path d="M466.24,229.78 L469.76,229.78 L468.00,226.74 Z" fill="#1d4a78"/>
<path d="M464.24,232.58 L467.76,232.58 L466.00,229.54 Z" fill="#1d4a78"/>
<line x1="493.60" y1="227.80" x2="493.60" y2="220.80" stroke="#1a1a1a" stroke-width="1.15" />
<line x1="490.40" y1="220.80" x2="496.80" y2="220.80" stroke="#1a1a1a" stroke-width="1.15" />
<line x1="490.40" y1="227.80" x2="496.80" y2="227.80" stroke="#1a1a1a" stroke-width="1.15" />
<path d="M491.84,222.78 L495.36,222.78 L493.60,219.74 Z" fill="#6a4418"/>
<path d="M489.84,228.38 L493.36,228.38 L491.60,225.34 Z" fill="#6a4418"/>
<path d="M493.84,227.68 L497.36,227.68 L495.60,224.64 Z" fill="#6a4418"/>
<line x1="392.10" y1="250.20" x2="392.10" y2="177.40" stroke="#1a1a1a" stroke-width="1.45" />
<line x1="389.50" y1="250.20" x2="392.10" y2="250.20" stroke="#2a2a2a" stroke-width="1.0" />
<text x="386.30" y="253.10" font-size="7.2" text-anchor="end" font-weight="normal" fill="#1e1e1e" stroke="#1e1e1e" stroke-width="0.18" >0.0</text>
<line x1="389.50" y1="236.20" x2="392.10" y2="236.20" stroke="#2a2a2a" stroke-width="1.0" />
<text x="386.30" y="239.10" font-size="7.2" text-anchor="end" font-weight="normal" fill="#1e1e1e" stroke="#1e1e1e" stroke-width="0.18" >0.2</text>
<line x1="389.50" y1="222.20" x2="392.10" y2="222.20" stroke="#2a2a2a" stroke-width="1.0" />
<text x="386.30" y="225.10" font-size="7.2" text-anchor="end" font-weight="normal" fill="#1e1e1e" stroke="#1e1e1e" stroke-width="0.18" >0.4</text>
<line x1="389.50" y1="208.20" x2="392.10" y2="208.20" stroke="#2a2a2a" stroke-width="1.0" />
<text x="386.30" y="211.10" font-size="7.2" text-anchor="end" font-weight="normal" fill="#1e1e1e" stroke="#1e1e1e" stroke-width="0.18" >0.6</text>
<line x1="389.50" y1="194.20" x2="392.10" y2="194.20" stroke="#2a2a2a" stroke-width="1.0" />
<text x="386.30" y="197.10" font-size="7.2" text-anchor="end" font-weight="normal" fill="#1e1e1e" stroke="#1e1e1e" stroke-width="0.18" >0.8</text>
<line x1="389.50" y1="180.20" x2="392.10" y2="180.20" stroke="#2a2a2a" stroke-width="1.0" />
<text x="386.30" y="183.10" font-size="7.2" text-anchor="end" font-weight="normal" fill="#1e1e1e" stroke="#1e1e1e" stroke-width="0.18" >1.0</text>
<line x1="391.40" y1="250.20" x2="506.00" y2="250.20" stroke="#1a1a1a" stroke-width="1.45" />
<line x1="411.30" y1="250.20" x2="411.30" y2="252.60" stroke="#2a2a2a" stroke-width="1.0" />
<line x1="438.20" y1="250.20" x2="438.20" y2="252.60" stroke="#2a2a2a" stroke-width="1.0" />
<line x1="466.00" y1="250.20" x2="466.00" y2="252.60" stroke="#2a2a2a" stroke-width="1.0" />
<line x1="493.60" y1="250.20" x2="493.60" y2="252.60" stroke="#2a2a2a" stroke-width="1.0" />
<line x1="411.00" y1="188.50" x2="493.90" y2="188.50" stroke="#333" stroke-width="1.15" />
<circle cx="447.95" cy="184.70" r="0.95" fill="#2a2a2a"/>
<circle cx="450.95" cy="184.70" r="0.95" fill="#2a2a2a"/>
<circle cx="453.95" cy="184.70" r="0.95" fill="#2a2a2a"/>
<circle cx="456.95" cy="184.70" r="0.95" fill="#2a2a2a"/>
<line x1="439.50" y1="201.50" x2="493.90" y2="201.50" stroke="#333" stroke-width="1.15" />
<circle cx="462.20" cy="197.70" r="0.95" fill="#2a2a2a"/>
<circle cx="465.20" cy="197.70" r="0.95" fill="#2a2a2a"/>
<circle cx="468.20" cy="197.70" r="0.95" fill="#2a2a2a"/>
<circle cx="471.20" cy="197.70" r="0.95" fill="#2a2a2a"/>
<line x1="411.00" y1="213.50" x2="466.00" y2="213.50" stroke="#333" stroke-width="1.15" />
<circle cx="435.50" cy="209.70" r="0.95" fill="#2a2a2a"/>
<circle cx="438.50" cy="209.70" r="0.95" fill="#2a2a2a"/>
<circle cx="441.50" cy="209.70" r="0.95" fill="#2a2a2a"/>
<text x="411.70" y="263.10" font-size="7.85" text-anchor="middle" font-weight="normal" fill="#1e1e1e" stroke="#1e1e1e" stroke-width="0.18" >DMSO</text>
<text x="438.80" y="263.10" font-size="7.85" text-anchor="middle" font-weight="normal" fill="#1e1e1e" stroke="#1e1e1e" stroke-width="0.18" >MI-503</text>
<text x="466.20" y="263.10" font-size="7.85" text-anchor="middle" font-weight="normal" fill="#1e1e1e" stroke="#1e1e1e" stroke-width="0.18" >DMSO</text>
<text x="493.00" y="263.10" font-size="7.85" text-anchor="middle" font-weight="normal" fill="#1e1e1e" stroke="#1e1e1e" stroke-width="0.18" >MI-503</text>
<line x1="396.20" y1="267.70" x2="450.90" y2="267.70" stroke="#333" stroke-width="1.1" />
<text x="427.80" y="277.40" font-size="7.85" text-anchor="middle" font-weight="normal" fill="#1e1e1e" stroke="#1e1e1e" stroke-width="0.18" >NT</text>
<line x1="454.80" y1="267.70" x2="507.50" y2="267.70" stroke="#333" stroke-width="1.1" />
<text x="479.30" y="277.40" font-size="7.85" text-anchor="middle" font-weight="normal" fill="#1e1e1e" stroke="#1e1e1e" stroke-width="0.18" >I3KO</text>
<text x="451.00" y="173.00" font-size="9.3" text-anchor="middle" font-weight="normal" fill="#1e1e1e" stroke="#1e1e1e" stroke-width="0.18" >CFU-M</text>
<text x="0" y="0" font-size="8" font-weight="normal" text-anchor="middle" fill="#1e1e1e" stroke="#1e1e1e" stroke-width="0.3" textLength="60.3" lengthAdjust="spacingAndGlyphs" transform="translate(370.00,213.60) rotate(-90)">Prop. of total colonies</text>
<text x="6.45" y="297.80" font-size="10.7" text-anchor="start" font-weight="bold" fill="#000" stroke="#000" stroke-width="0" >G</text>
<rect x="57.10" y="350.39" width="17.00" height="24.31" fill="#a9d38f" stroke="#93c677" stroke-width="0.6"/>
<rect x="84.80" y="353.25" width="17.00" height="21.45" fill="#e5837a" stroke="#d36f64" stroke-width="0.6"/>
<rect x="112.50" y="370.41" width="17.00" height="4.29" fill="#bdd8f2" stroke="#a5c8eb" stroke-width="0.6"/>
<rect x="139.70" y="373.63" width="17.00" height="1.07" fill="#fac68c" stroke="#efb273" stroke-width="0.6"/>
<line x1="65.60" y1="353.96" x2="65.60" y2="346.81" stroke="#1a1a1a" stroke-width="1.15" />
<line x1="62.40" y1="346.81" x2="68.80" y2="346.81" stroke="#1a1a1a" stroke-width="1.15" />
<line x1="62.40" y1="353.96" x2="68.80" y2="353.96" stroke="#1a1a1a" stroke-width="1.15" />
<circle cx="65.60" cy="347.53" r="1.6" fill="none" stroke="#255a25" stroke-width="1.0"/>
<circle cx="62.60" cy="352.53" r="1.6" fill="none" stroke="#255a25" stroke-width="1.0"/>
<circle cx="68.60" cy="352.53" r="1.6" fill="none" stroke="#255a25" stroke-width="1.0"/>
<line x1="93.30" y1="354.32" x2="93.30" y2="351.82" stroke="#1a1a1a" stroke-width="1.15" />
<line x1="90.10" y1="351.82" x2="96.50" y2="351.82" stroke="#1a1a1a" stroke-width="1.15" />
<line x1="90.10" y1="354.32" x2="96.50" y2="354.32" stroke="#1a1a1a" stroke-width="1.15" />
<circle cx="90.30" cy="352.53" r="1.6" fill="#5e0e16"/>
<circle cx="96.30" cy="352.53" r="1.6" fill="#5e0e16"/>
<circle cx="93.30" cy="353.96" r="1.6" fill="#5e0e16"/>
<path d="M115.24,371.69 L118.76,371.69 L117.00,368.65 Z" fill="#1d4a78"/>
<path d="M119.24,370.97 L122.76,370.97 L121.00,367.94 Z" fill="#1d4a78"/>
<path d="M123.24,371.69 L126.76,371.69 L125.00,368.65 Z" fill="#1d4a78"/>
<path d="M142.44,374.91 L145.96,374.91 L144.20,371.87 Z" fill="#6a4418"/>
<path d="M146.44,374.55 L149.96,374.55 L148.20,371.51 Z" fill="#6a4418"/>
<path d="M150.44,374.91 L153.96,374.91 L152.20,371.87 Z" fill="#6a4418"/>
<line x1="49.30" y1="374.70" x2="49.30" y2="300.40" stroke="#1a1a1a" stroke-width="1.45" />
<line x1="46.70" y1="374.70" x2="49.30" y2="374.70" stroke="#2a2a2a" stroke-width="1.0" />
<text x="43.70" y="377.60" font-size="7.8" text-anchor="end" font-weight="normal" fill="#1e1e1e" stroke="#1e1e1e" stroke-width="0.18" >0</text>
<line x1="46.70" y1="360.40" x2="49.30" y2="360.40" stroke="#2a2a2a" stroke-width="1.0" />
<text x="43.70" y="363.30" font-size="7.8" text-anchor="end" font-weight="normal" fill="#1e1e1e" stroke="#1e1e1e" stroke-width="0.18" >2</text>
<line x1="46.70" y1="346.10" x2="49.30" y2="346.10" stroke="#2a2a2a" stroke-width="1.0" />
<text x="43.70" y="349.00" font-size="7.8" text-anchor="end" font-weight="normal" fill="#1e1e1e" stroke="#1e1e1e" stroke-width="0.18" >4</text>
<line x1="46.70" y1="331.80" x2="49.30" y2="331.80" stroke="#2a2a2a" stroke-width="1.0" />
<text x="43.70" y="334.70" font-size="7.8" text-anchor="end" font-weight="normal" fill="#1e1e1e" stroke="#1e1e1e" stroke-width="0.18" >6</text>
<line x1="46.70" y1="317.50" x2="49.30" y2="317.50" stroke="#2a2a2a" stroke-width="1.0" />
<text x="43.70" y="320.40" font-size="7.8" text-anchor="end" font-weight="normal" fill="#1e1e1e" stroke="#1e1e1e" stroke-width="0.18" >8</text>
<line x1="46.70" y1="303.20" x2="49.30" y2="303.20" stroke="#2a2a2a" stroke-width="1.0" />
<text x="43.70" y="306.10" font-size="7.8" text-anchor="end" font-weight="normal" fill="#1e1e1e" stroke="#1e1e1e" stroke-width="0.18" >10</text>
<line x1="48.60" y1="374.70" x2="160.00" y2="374.70" stroke="#1a1a1a" stroke-width="1.45" />
<line x1="65.60" y1="374.70" x2="65.60" y2="377.10" stroke="#2a2a2a" stroke-width="1.0" />
<line x1="93.30" y1="374.70" x2="93.30" y2="377.10" stroke="#2a2a2a" stroke-width="1.0" />
<line x1="121.00" y1="374.70" x2="121.00" y2="377.10" stroke="#2a2a2a" stroke-width="1.0" />
<line x1="148.20" y1="374.70" x2="148.20" y2="377.10" stroke="#2a2a2a" stroke-width="1.0" />
<line x1="66.70" y1="316.50" x2="148.30" y2="316.50" stroke="#333" stroke-width="1.15" />
<circle cx="103.00" cy="312.70" r="0.95" fill="#2a2a2a"/>
<circle cx="106.00" cy="312.70" r="0.95" fill="#2a2a2a"/>
<circle cx="109.00" cy="312.70" r="0.95" fill="#2a2a2a"/>
<circle cx="112.00" cy="312.70" r="0.95" fill="#2a2a2a"/>
<line x1="94.50" y1="327.50" x2="148.30" y2="327.50" stroke="#333" stroke-width="1.15" />
<circle cx="116.90" cy="323.70" r="0.95" fill="#2a2a2a"/>
<circle cx="119.90" cy="323.70" r="0.95" fill="#2a2a2a"/>
<circle cx="122.90" cy="323.70" r="0.95" fill="#2a2a2a"/>
<circle cx="125.90" cy="323.70" r="0.95" fill="#2a2a2a"/>
<line x1="66.70" y1="338.50" x2="120.60" y2="338.50" stroke="#333" stroke-width="1.15" />
<circle cx="89.15" cy="334.70" r="0.95" fill="#2a2a2a"/>
<circle cx="92.15" cy="334.70" r="0.95" fill="#2a2a2a"/>
<circle cx="95.15" cy="334.70" r="0.95" fill="#2a2a2a"/>
<circle cx="98.15" cy="334.70" r="0.95" fill="#2a2a2a"/>
<text x="66.00" y="387.00" font-size="7.85" text-anchor="middle" font-weight="normal" fill="#1e1e1e" stroke="#1e1e1e" stroke-width="0.18" >DMSO</text>
<text x="93.70" y="387.00" font-size="7.85" text-anchor="middle" font-weight="normal" fill="#1e1e1e" stroke="#1e1e1e" stroke-width="0.18" >MI-503</text>
<text x="119.20" y="387.00" font-size="7.85" text-anchor="middle" font-weight="normal" fill="#1e1e1e" stroke="#1e1e1e" stroke-width="0.18" >DMSO</text>
<text x="146.60" y="387.00" font-size="7.85" text-anchor="middle" font-weight="normal" fill="#1e1e1e" stroke="#1e1e1e" stroke-width="0.18" >MI-503</text>
<line x1="56.50" y1="391.60" x2="105.50" y2="391.60" stroke="#333" stroke-width="1.1" />
<text x="81.50" y="400.50" font-size="7.85" text-anchor="middle" font-weight="normal" fill="#1e1e1e" stroke="#1e1e1e" stroke-width="0.18" >NT</text>
<line x1="107.40" y1="391.60" x2="158.60" y2="391.60" stroke="#333" stroke-width="1.1" />
<text x="132.80" y="400.50" font-size="7.85" text-anchor="middle" font-weight="normal" fill="#1e1e1e" stroke="#1e1e1e" stroke-width="0.18" >I3KO</text>
<text x="0" y="0" font-size="8" font-weight="bold" text-anchor="middle" fill="#1e1e1e" stroke="#1e1e1e" stroke-width="0.1" textLength="58.4" lengthAdjust="spacingAndGlyphs" transform="translate(28.60,338.60) rotate(-90)">Lin- count (10<tspan font-size="4.5" dy="-2.5">6</tspan><tspan dy="2.5">/mL)</tspan></text>
<text x="181.70" y="297.80" font-size="10.7" text-anchor="start" font-weight="bold" fill="#000" stroke="#000" stroke-width="0" >H</text>
<rect x="232.80" y="343.95" width="17.00" height="30.75" fill="#a9d38f" stroke="#93c677" stroke-width="0.6"/>
<rect x="260.50" y="347.17" width="17.00" height="27.53" fill="#e5837a" stroke="#d36f64" stroke-width="0.6"/>
<rect x="287.50" y="361.83" width="17.00" height="12.87" fill="#bdd8f2" stroke="#a5c8eb" stroke-width="0.6"/>
<rect x="315.10" y="364.69" width="17.00" height="10.01" fill="#fac68c" stroke="#efb273" stroke-width="0.6"/>
<line x1="241.30" y1="344.67" x2="241.30" y2="341.81" stroke="#1a1a1a" stroke-width="1.15" />
<line x1="238.10" y1="341.81" x2="244.50" y2="341.81" stroke="#1a1a1a" stroke-width="1.15" />
<line x1="238.10" y1="344.67" x2="244.50" y2="344.67" stroke="#1a1a1a" stroke-width="1.15" />
<circle cx="236.30" cy="343.95" r="1.6" fill="none" stroke="#255a25" stroke-width="1.0"/>
<circle cx="241.30" cy="341.81" r="1.6" fill="none" stroke="#255a25" stroke-width="1.0"/>
<circle cx="246.30" cy="343.95" r="1.6" fill="none" stroke="#255a25" stroke-width="1.0"/>
<line x1="269.00" y1="349.68" x2="269.00" y2="344.67" stroke="#1a1a1a" stroke-width="1.15" />
<line x1="265.80" y1="344.67" x2="272.20" y2="344.67" stroke="#1a1a1a" stroke-width="1.15" />
<line x1="265.80" y1="349.68" x2="272.20" y2="349.68" stroke="#1a1a1a" stroke-width="1.15" />
<circle cx="269.00" cy="344.67" r="1.6" fill="#5e0e16"/>
<circle cx="267.00" cy="348.96" r="1.6" fill="#5e0e16"/>
<circle cx="271.00" cy="348.96" r="1.6" fill="#5e0e16"/>
<path d="M290.24,363.11 L293.76,363.11 L292.00,360.07 Z" fill="#1d4a78"/>
<path d="M294.24,362.75 L297.76,362.75 L296.00,359.71 Z" fill="#1d4a78"/>
<path d="M298.24,363.11 L301.76,363.11 L300.00,360.07 Z" fill="#1d4a78"/>
<path d="M317.84,365.97 L321.36,365.97 L319.60,362.93 Z" fill="#6a4418"/>
<path d="M321.84,365.61 L325.36,365.61 L323.60,362.57 Z" fill="#6a4418"/>
<path d="M325.84,365.97 L329.36,365.97 L327.60,362.93 Z" fill="#6a4418"/>
<line x1="225.20" y1="374.70" x2="225.20" y2="300.40" stroke="#1a1a1a" stroke-width="1.45" />
<line x1="222.60" y1="374.70" x2="225.20" y2="374.70" stroke="#2a2a2a" stroke-width="1.0" />
<text x="219.50" y="377.60" font-size="7.8" text-anchor="end" font-weight="normal" fill="#1e1e1e" stroke="#1e1e1e" stroke-width="0.18" >0</text>
<line x1="222.60" y1="360.40" x2="225.20" y2="360.40" stroke="#2a2a2a" stroke-width="1.0" />
<text x="219.50" y="363.30" font-size="7.8" text-anchor="end" font-weight="normal" fill="#1e1e1e" stroke="#1e1e1e" stroke-width="0.18" >2</text>
<line x1="222.60" y1="346.10" x2="225.20" y2="346.10" stroke="#2a2a2a" stroke-width="1.0" />
<text x="219.50" y="349.00" font-size="7.8" text-anchor="end" font-weight="normal" fill="#1e1e1e" stroke="#1e1e1e" stroke-width="0.18" >4</text>
<line x1="222.60" y1="331.80" x2="225.20" y2="331.80" stroke="#2a2a2a" stroke-width="1.0" />
<text x="219.50" y="334.70" font-size="7.8" text-anchor="end" font-weight="normal" fill="#1e1e1e" stroke="#1e1e1e" stroke-width="0.18" >6</text>
<line x1="222.60" y1="317.50" x2="225.20" y2="317.50" stroke="#2a2a2a" stroke-width="1.0" />
<text x="219.50" y="320.40" font-size="7.8" text-anchor="end" font-weight="normal" fill="#1e1e1e" stroke="#1e1e1e" stroke-width="0.18" >8</text>
<line x1="222.60" y1="303.20" x2="225.20" y2="303.20" stroke="#2a2a2a" stroke-width="1.0" />
<text x="219.50" y="306.10" font-size="7.8" text-anchor="end" font-weight="normal" fill="#1e1e1e" stroke="#1e1e1e" stroke-width="0.18" >10</text>
<line x1="224.50" y1="374.70" x2="336.00" y2="374.70" stroke="#1a1a1a" stroke-width="1.45" />
<line x1="241.30" y1="374.70" x2="241.30" y2="377.10" stroke="#2a2a2a" stroke-width="1.0" />
<line x1="269.00" y1="374.70" x2="269.00" y2="377.10" stroke="#2a2a2a" stroke-width="1.0" />
<line x1="296.00" y1="374.70" x2="296.00" y2="377.10" stroke="#2a2a2a" stroke-width="1.0" />
<line x1="323.60" y1="374.70" x2="323.60" y2="377.10" stroke="#2a2a2a" stroke-width="1.0" />
<line x1="241.00" y1="310.50" x2="323.90" y2="310.50" stroke="#333" stroke-width="1.15" />
<circle cx="277.95" cy="306.70" r="0.95" fill="#2a2a2a"/>
<circle cx="280.95" cy="306.70" r="0.95" fill="#2a2a2a"/>
<circle cx="283.95" cy="306.70" r="0.95" fill="#2a2a2a"/>
<circle cx="286.95" cy="306.70" r="0.95" fill="#2a2a2a"/>
<line x1="241.00" y1="322.50" x2="296.00" y2="322.50" stroke="#333" stroke-width="1.15" />
<circle cx="264.00" cy="318.70" r="0.95" fill="#2a2a2a"/>
<circle cx="267.00" cy="318.70" r="0.95" fill="#2a2a2a"/>
<circle cx="270.00" cy="318.70" r="0.95" fill="#2a2a2a"/>
<circle cx="273.00" cy="318.70" r="0.95" fill="#2a2a2a"/>
<line x1="241.00" y1="332.50" x2="268.70" y2="332.50" stroke="#333" stroke-width="1.15" />
<circle cx="254.85" cy="328.70" r="0.95" fill="#2a2a2a"/>
<line x1="270.50" y1="332.50" x2="323.90" y2="332.50" stroke="#333" stroke-width="1.15" />
<circle cx="292.70" cy="328.70" r="0.95" fill="#2a2a2a"/>
<circle cx="295.70" cy="328.70" r="0.95" fill="#2a2a2a"/>
<circle cx="298.70" cy="328.70" r="0.95" fill="#2a2a2a"/>
<circle cx="301.70" cy="328.70" r="0.95" fill="#2a2a2a"/>
<text x="241.00" y="386.80" font-size="7.85" text-anchor="middle" font-weight="normal" fill="#1e1e1e" stroke="#1e1e1e" stroke-width="0.18" >DMSO</text>
<text x="269.30" y="388.10" font-size="7.85" text-anchor="middle" font-weight="normal" fill="#1e1e1e" stroke="#1e1e1e" stroke-width="0.18" >MI-503</text>
<text x="296.40" y="388.10" font-size="7.85" text-anchor="middle" font-weight="normal" fill="#1e1e1e" stroke="#1e1e1e" stroke-width="0.18" >DMSO</text>
<text x="322.90" y="388.10" font-size="7.85" text-anchor="middle" font-weight="normal" fill="#1e1e1e" stroke="#1e1e1e" stroke-width="0.18" >MI-503</text>
<line x1="231.50" y1="391.90" x2="281.20" y2="391.90" stroke="#333" stroke-width="1.1" />
<text x="264.30" y="401.00" font-size="7.85" text-anchor="middle" font-weight="normal" fill="#1e1e1e" stroke="#1e1e1e" stroke-width="0.18" >NT</text>
<line x1="283.50" y1="391.90" x2="335.50" y2="391.90" stroke="#333" stroke-width="1.1" />
<text x="313.50" y="401.00" font-size="7.85" text-anchor="middle" font-weight="normal" fill="#1e1e1e" stroke="#1e1e1e" stroke-width="0.18" >I3KO</text>
<text x="0" y="0" font-size="8" font-weight="bold" text-anchor="middle" fill="#1e1e1e" stroke="#1e1e1e" stroke-width="0.1" textLength="58.4" lengthAdjust="spacingAndGlyphs" transform="translate(203.60,338.00) rotate(-90)">ckit+ count (10<tspan font-size="4.5" dy="-2.5">6</tspan><tspan dy="2.5">/mL)</tspan></text>
<text x="349.20" y="297.80" font-size="10.7" text-anchor="start" font-weight="bold" fill="#000" stroke="#000" stroke-width="0" >I</text>
<rect x="400.75" y="347.54" width="16.50" height="27.56" fill="#a9d38f" stroke="#93c677" stroke-width="0.6"/>
<rect x="428.55" y="362.24" width="16.50" height="12.86" fill="#e5837a" stroke="#d36f64" stroke-width="0.6"/>
<rect x="455.75" y="370.14" width="16.50" height="4.96" fill="#bdd8f2" stroke="#a5c8eb" stroke-width="0.6"/>
<rect x="483.55" y="371.79" width="16.50" height="3.31" fill="#fac68c" stroke="#efb273" stroke-width="0.6"/>
<line x1="409.00" y1="352.13" x2="409.00" y2="343.86" stroke="#1a1a1a" stroke-width="1.15" />
<line x1="405.80" y1="343.86" x2="412.20" y2="343.86" stroke="#1a1a1a" stroke-width="1.15" />
<line x1="405.80" y1="352.13" x2="412.20" y2="352.13" stroke="#1a1a1a" stroke-width="1.15" />
<circle cx="406.00" cy="344.78" r="1.6" fill="none" stroke="#255a25" stroke-width="1.0"/>
<circle cx="412.00" cy="344.78" r="1.6" fill="none" stroke="#255a25" stroke-width="1.0"/>
<circle cx="409.00" cy="351.21" r="1.6" fill="none" stroke="#255a25" stroke-width="1.0"/>
<line x1="436.80" y1="363.16" x2="436.80" y2="360.40" stroke="#1a1a1a" stroke-width="1.15" />
<line x1="433.60" y1="360.40" x2="440.00" y2="360.40" stroke="#1a1a1a" stroke-width="1.15" />
<line x1="433.60" y1="363.16" x2="440.00" y2="363.16" stroke="#1a1a1a" stroke-width="1.15" />
<circle cx="432.80" cy="362.24" r="1.6" fill="#5e0e16"/>
<circle cx="436.80" cy="360.40" r="1.6" fill="#5e0e16"/>
<circle cx="440.80" cy="361.32" r="1.6" fill="#5e0e16"/>
<path d="M458.24,371.79 L461.76,371.79 L460.00,368.75 Z" fill="#1d4a78"/>
<path d="M462.24,370.87 L465.76,370.87 L464.00,367.83 Z" fill="#1d4a78"/>
<path d="M466.24,371.42 L469.76,371.42 L468.00,368.38 Z" fill="#1d4a78"/>
<path d="M486.04,373.44 L489.56,373.44 L487.80,370.40 Z" fill="#6a4418"/>
<path d="M490.04,372.70 L493.56,372.70 L491.80,369.67 Z" fill="#6a4418"/>
<path d="M494.04,373.07 L497.56,373.07 L495.80,370.03 Z" fill="#6a4418"/>
<line x1="392.20" y1="375.10" x2="392.20" y2="298.80" stroke="#1a1a1a" stroke-width="1.45" />
<line x1="389.60" y1="375.10" x2="392.20" y2="375.10" stroke="#2a2a2a" stroke-width="1.0" />
<text x="386.50" y="378.00" font-size="7.5" text-anchor="end" font-weight="normal" fill="#1e1e1e" stroke="#1e1e1e" stroke-width="0.18" >0.0</text>
<line x1="389.60" y1="356.73" x2="392.20" y2="356.73" stroke="#2a2a2a" stroke-width="1.0" />
<text x="386.50" y="359.62" font-size="7.5" text-anchor="end" font-weight="normal" fill="#1e1e1e" stroke="#1e1e1e" stroke-width="0.18" >0.1</text>
<line x1="389.60" y1="338.35" x2="392.20" y2="338.35" stroke="#2a2a2a" stroke-width="1.0" />
<text x="386.50" y="341.25" font-size="7.5" text-anchor="end" font-weight="normal" fill="#1e1e1e" stroke="#1e1e1e" stroke-width="0.18" >0.2</text>
<line x1="389.60" y1="319.98" x2="392.20" y2="319.98" stroke="#2a2a2a" stroke-width="1.0" />
<text x="386.50" y="322.88" font-size="7.5" text-anchor="end" font-weight="normal" fill="#1e1e1e" stroke="#1e1e1e" stroke-width="0.18" >0.3</text>
<line x1="389.60" y1="301.60" x2="392.20" y2="301.60" stroke="#2a2a2a" stroke-width="1.0" />
<text x="386.50" y="304.50" font-size="7.5" text-anchor="end" font-weight="normal" fill="#1e1e1e" stroke="#1e1e1e" stroke-width="0.18" >0.4</text>
<line x1="391.50" y1="375.10" x2="504.00" y2="375.10" stroke="#1a1a1a" stroke-width="1.45" />
<line x1="409.00" y1="375.10" x2="409.00" y2="377.50" stroke="#2a2a2a" stroke-width="1.0" />
<line x1="436.80" y1="375.10" x2="436.80" y2="377.50" stroke="#2a2a2a" stroke-width="1.0" />
<line x1="464.00" y1="375.10" x2="464.00" y2="377.50" stroke="#2a2a2a" stroke-width="1.0" />
<line x1="491.80" y1="375.10" x2="491.80" y2="377.50" stroke="#2a2a2a" stroke-width="1.0" />
<line x1="409.00" y1="312.50" x2="492.50" y2="312.50" stroke="#333" stroke-width="1.15" />
<circle cx="446.25" cy="308.70" r="0.95" fill="#2a2a2a"/>
<circle cx="449.25" cy="308.70" r="0.95" fill="#2a2a2a"/>
<circle cx="452.25" cy="308.70" r="0.95" fill="#2a2a2a"/>
<circle cx="455.25" cy="308.70" r="0.95" fill="#2a2a2a"/>
<line x1="436.80" y1="322.50" x2="492.50" y2="322.50" stroke="#333" stroke-width="1.15" />
<circle cx="463.15" cy="318.70" r="0.95" fill="#2a2a2a"/>
<circle cx="466.15" cy="318.70" r="0.95" fill="#2a2a2a"/>
<line x1="409.00" y1="331.50" x2="464.80" y2="331.50" stroke="#333" stroke-width="1.15" />
<circle cx="432.40" cy="327.70" r="0.95" fill="#2a2a2a"/>
<circle cx="435.40" cy="327.70" r="0.95" fill="#2a2a2a"/>
<circle cx="438.40" cy="327.70" r="0.95" fill="#2a2a2a"/>
<circle cx="441.40" cy="327.70" r="0.95" fill="#2a2a2a"/>
<text x="408.40" y="387.00" font-size="7.85" text-anchor="middle" font-weight="normal" fill="#1e1e1e" stroke="#1e1e1e" stroke-width="0.18" >DMSO</text>
<text x="436.70" y="387.00" font-size="7.85" text-anchor="middle" font-weight="normal" fill="#1e1e1e" stroke="#1e1e1e" stroke-width="0.18" >MI-503</text>
<text x="464.40" y="387.00" font-size="7.85" text-anchor="middle" font-weight="normal" fill="#1e1e1e" stroke="#1e1e1e" stroke-width="0.18" >DMSO</text>
<text x="493.40" y="387.00" font-size="7.85" text-anchor="middle" font-weight="normal" fill="#1e1e1e" stroke="#1e1e1e" stroke-width="0.18" >MI-503</text>
<line x1="401.70" y1="391.60" x2="451.60" y2="391.60" stroke="#333" stroke-width="1.1" />
<text x="430.10" y="400.50" font-size="7.85" text-anchor="middle" font-weight="normal" fill="#1e1e1e" stroke="#1e1e1e" stroke-width="0.18" >NT</text>
<line x1="457.10" y1="391.60" x2="505.20" y2="391.60" stroke="#333" stroke-width="1.1" />
<text x="482.10" y="400.50" font-size="7.85" text-anchor="middle" font-weight="normal" fill="#1e1e1e" stroke="#1e1e1e" stroke-width="0.18" >I3KO</text>
<text x="0" y="0" font-size="8" font-weight="bold" text-anchor="middle" fill="#1e1e1e" stroke="#1e1e1e" stroke-width="0.1" textLength="70.6" lengthAdjust="spacingAndGlyphs" transform="translate(369.80,335.80) rotate(-90)">Lin-ckit+ count (10<tspan font-size="4.5" dy="-2.5">6</tspan><tspan dy="2.5">/mL)</tspan></text>
<text x="6.50" y="556.90" font-size="10.7" text-anchor="start" font-weight="bold" fill="#000" stroke="#000" stroke-width="0" >N</text>
<rect x="56.25" y="587.40" width="16.30" height="41.40" fill="#a9d38f" stroke="#93c677" stroke-width="0.6"/>
<rect x="82.55" y="601.20" width="17.50" height="27.60" fill="#bdd8f2" stroke="#a5c8eb" stroke-width="0.6"/>
<line x1="64.40" y1="592.77" x2="64.40" y2="580.50" stroke="#1a1a1a" stroke-width="1.15" />
<line x1="61.20" y1="580.50" x2="67.60" y2="580.50" stroke="#1a1a1a" stroke-width="1.15" />
<line x1="61.20" y1="592.77" x2="67.60" y2="592.77" stroke="#1a1a1a" stroke-width="1.15" />
<path d="M62.64,582.55 L66.16,582.55 L64.40,579.51 Z" fill="#255a25"/>
<path d="M61.64,593.28 L65.16,593.28 L63.40,590.24 Z" fill="#255a25"/>
<path d="M64.64,591.75 L68.16,591.75 L66.40,588.71 Z" fill="#255a25"/>
<path d="M85.54,602.67 L89.06,602.67 L87.30,599.63 Z" fill="#1d4a78"/>
<path d="M89.54,602.29 L93.06,602.29 L91.30,599.25 Z" fill="#1d4a78"/>
<path d="M93.54,602.48 L97.06,602.48 L95.30,599.44 Z" fill="#1d4a78"/>
<line x1="48.80" y1="628.80" x2="48.80" y2="568.50" stroke="#1a1a1a" stroke-width="1.45" />
<line x1="46.20" y1="628.80" x2="48.80" y2="628.80" stroke="#2a2a2a" stroke-width="1.0" />
<text x="43.40" y="631.70" font-size="7.8" text-anchor="end" font-weight="normal" fill="#1e1e1e" stroke="#1e1e1e" stroke-width="0.18" >0</text>
<line x1="46.20" y1="609.63" x2="48.80" y2="609.63" stroke="#2a2a2a" stroke-width="1.0" />
<text x="43.40" y="612.53" font-size="7.8" text-anchor="end" font-weight="normal" fill="#1e1e1e" stroke="#1e1e1e" stroke-width="0.18" >500</text>
<line x1="46.20" y1="590.47" x2="48.80" y2="590.47" stroke="#2a2a2a" stroke-width="1.0" />
<text x="43.40" y="593.37" font-size="7.8" text-anchor="end" font-weight="normal" fill="#1e1e1e" stroke="#1e1e1e" stroke-width="0.18" >1000</text>
<line x1="46.20" y1="571.30" x2="48.80" y2="571.30" stroke="#2a2a2a" stroke-width="1.0" />
<text x="43.40" y="574.20" font-size="7.8" text-anchor="end" font-weight="normal" fill="#1e1e1e" stroke="#1e1e1e" stroke-width="0.18" >1500</text>
<line x1="48.10" y1="628.80" x2="107.50" y2="628.80" stroke="#1a1a1a" stroke-width="1.45" />
<line x1="64.40" y1="628.80" x2="64.40" y2="631.20" stroke="#2a2a2a" stroke-width="1.0" />
<line x1="91.30" y1="628.80" x2="91.30" y2="631.20" stroke="#2a2a2a" stroke-width="1.0" />
<line x1="64.50" y1="575.50" x2="92.00" y2="575.50" stroke="#333" stroke-width="1.15" />
<circle cx="78.25" cy="571.70" r="0.95" fill="#2a2a2a"/>
<text x="64.50" y="641.30" font-size="7.85" text-anchor="middle" font-weight="normal" fill="#1e1e1e" stroke="#1e1e1e" stroke-width="0.18" >NT</text>
<text x="91.50" y="641.30" font-size="7.85" text-anchor="middle" font-weight="normal" fill="#1e1e1e" stroke="#1e1e1e" stroke-width="0.18" >I3KO</text>
<text x="0" y="0" font-size="8.6" font-weight="bold" text-anchor="middle" fill="#1e1e1e" stroke="#1e1e1e" stroke-width="0.1" textLength="27.4" lengthAdjust="spacingAndGlyphs" transform="translate(19.90,598.70) rotate(-90)">MFI CD34</text>
<text x="142.60" y="556.90" font-size="10.7" text-anchor="start" font-weight="bold" fill="#000" stroke="#000" stroke-width="0" >O</text>
<rect x="186.10" y="608.30" width="16.00" height="20.00" fill="#a9d38f" stroke="#93c677" stroke-width="0.6"/>
<rect x="213.25" y="578.54" width="16.30" height="49.75" fill="#e5837a" stroke="#d36f64" stroke-width="0.6"/>
<line x1="194.10" y1="613.42" x2="194.10" y2="602.26" stroke="#1a1a1a" stroke-width="1.15" />
<line x1="190.90" y1="602.26" x2="197.30" y2="602.26" stroke="#1a1a1a" stroke-width="1.15" />
<line x1="190.90" y1="613.42" x2="197.30" y2="613.42" stroke="#1a1a1a" stroke-width="1.15" />
<path d="M192.34,604.00 L195.86,604.00 L194.10,600.97 Z" fill="#255a25"/>
<path d="M191.34,612.84 L194.86,612.84 L193.10,609.80 Z" fill="#255a25"/>
<path d="M194.34,611.91 L197.86,611.91 L196.10,608.87 Z" fill="#255a25"/>
<line x1="221.40" y1="580.87" x2="221.40" y2="576.22" stroke="#1a1a1a" stroke-width="1.15" />
<line x1="218.20" y1="576.22" x2="224.60" y2="576.22" stroke="#1a1a1a" stroke-width="1.15" />
<line x1="218.20" y1="580.87" x2="224.60" y2="580.87" stroke="#1a1a1a" stroke-width="1.15" />
<path d="M217.64,577.96 L221.16,577.96 L219.40,574.92 Z" fill="#5e0e16"/>
<path d="M221.64,578.43 L225.16,578.43 L223.40,575.39 Z" fill="#5e0e16"/>
<path d="M219.64,581.68 L223.16,581.68 L221.40,578.64 Z" fill="#5e0e16"/>
<line x1="179.30" y1="628.30" x2="179.30" y2="569.70" stroke="#1a1a1a" stroke-width="1.45" />
<line x1="176.70" y1="628.30" x2="179.30" y2="628.30" stroke="#2a2a2a" stroke-width="1.0" />
<text x="173.90" y="631.20" font-size="7.8" text-anchor="end" font-weight="normal" fill="#1e1e1e" stroke="#1e1e1e" stroke-width="0.18" >0</text>
<line x1="176.70" y1="609.70" x2="179.30" y2="609.70" stroke="#2a2a2a" stroke-width="1.0" />
<text x="173.90" y="612.60" font-size="7.8" text-anchor="end" font-weight="normal" fill="#1e1e1e" stroke="#1e1e1e" stroke-width="0.18" >2000</text>
<line x1="176.70" y1="591.10" x2="179.30" y2="591.10" stroke="#2a2a2a" stroke-width="1.0" />
<text x="173.90" y="594.00" font-size="7.8" text-anchor="end" font-weight="normal" fill="#1e1e1e" stroke="#1e1e1e" stroke-width="0.18" >4000</text>
<line x1="176.70" y1="572.50" x2="179.30" y2="572.50" stroke="#2a2a2a" stroke-width="1.0" />
<text x="173.90" y="575.40" font-size="7.8" text-anchor="end" font-weight="normal" fill="#1e1e1e" stroke="#1e1e1e" stroke-width="0.18" >6000</text>
<line x1="178.60" y1="628.30" x2="235.00" y2="628.30" stroke="#1a1a1a" stroke-width="1.45" />
<line x1="194.10" y1="628.30" x2="194.10" y2="630.70" stroke="#2a2a2a" stroke-width="1.0" />
<line x1="221.40" y1="628.30" x2="221.40" y2="630.70" stroke="#2a2a2a" stroke-width="1.0" />
<line x1="194.50" y1="571.50" x2="221.30" y2="571.50" stroke="#333" stroke-width="1.15" />
<circle cx="206.40" cy="567.70" r="0.95" fill="#2a2a2a"/>
<circle cx="209.40" cy="567.70" r="0.95" fill="#2a2a2a"/>
<text x="193.80" y="641.00" font-size="7.85" text-anchor="middle" font-weight="normal" fill="#1e1e1e" stroke="#1e1e1e" stroke-width="0.18" >DMSO</text>
<text x="220.50" y="641.00" font-size="7.85" text-anchor="middle" font-weight="normal" fill="#1e1e1e" stroke="#1e1e1e" stroke-width="0.18" >MI-503</text>
<text x="0" y="0" font-size="8.6" font-weight="bold" text-anchor="middle" fill="#1e1e1e" stroke="#1e1e1e" stroke-width="0.1" textLength="37.9" lengthAdjust="spacingAndGlyphs" transform="translate(150.00,598.70) rotate(-90)">MFI CD16/32</text>
<defs>
<filter id="blur05" x="-20%" y="-20%" width="140%" height="140%"><feGaussianBlur stdDeviation="0.5"/></filter>
<filter id="blur1" x="-30%" y="-30%" width="160%" height="160%"><feGaussianBlur stdDeviation="1.0"/></filter>
<filter id="blur2" x="-40%" y="-40%" width="180%" height="180%"><feGaussianBlur stdDeviation="2.0"/></filter>
</defs>
<text x="6.70" y="421.30" font-size="10.7" text-anchor="start" font-weight="bold" fill="#000" stroke="#000" stroke-width="0" >J</text>
<text x="86.20" y="429.10" font-size="9.5" text-anchor="middle" font-weight="normal" fill="#1e1e1e" stroke="#1e1e1e" stroke-width="0.18" >NT DMSO</text>
<ellipse cx="84" cy="462" rx="13" ry="18" transform="rotate(20 84 462)" fill="#e3e3e3" filter="url(#blur2)"/>
<ellipse cx="80" cy="493" rx="21" ry="14" transform="rotate(0 80 493)" fill="#e3e3e3" filter="url(#blur2)"/>
<defs><radialGradient id="g1" gradientUnits="userSpaceOnUse" cx="83" cy="461" r="15.5" fx="82" fy="464" gradientTransform="translate(83 461) rotate(20) scale(0.8 1.05) translate(-83 -461)"><stop offset="0" stop-color="#bdbdbd"/><stop offset="0.4" stop-color="#939393"/><stop offset="0.65" stop-color="#5a5a5a"/><stop offset="0.82" stop-color="#333"/><stop offset="1" stop-color="#1e1e1e"/></radialGradient></defs>
<path d="M73.50,474.50 C73.03,472.78 73.03,468.92 73.20,466.00 C73.37,463.08 73.78,459.42 74.50,457.00 C75.22,454.58 76.25,452.90 77.50,451.50 C78.75,450.10 80.42,449.22 82.00,448.60 C83.58,447.98 85.42,447.77 87.00,447.80 C88.58,447.83 90.33,448.10 91.50,448.80 C92.67,449.50 93.50,450.47 94.00,452.00 C94.50,453.53 94.58,456.00 94.50,458.00 C94.42,460.00 94.08,462.08 93.50,464.00 C92.92,465.92 92.08,467.87 91.00,469.50 C89.92,471.13 88.67,472.68 87.00,473.80 C85.33,474.92 82.83,475.78 81.00,476.20 C79.17,476.62 77.25,476.58 76.00,476.30 C74.75,476.02 73.97,476.22 73.50,474.50Z" fill="url(#g1)" stroke="#1e1e1e" stroke-width="0.9" />
<path d="M74.76,472.68 C74.36,471.20 74.36,467.88 74.50,465.37 C74.65,462.86 75.00,459.71 75.62,457.63 C76.24,455.55 77.12,454.10 78.20,452.90 C79.28,451.70 80.71,450.94 82.07,450.41 C83.43,449.88 85.01,449.69 86.37,449.72 C87.73,449.75 89.24,449.98 90.24,450.58 C91.24,451.18 91.96,452.01 92.39,453.33 C92.82,454.65 92.89,456.77 92.82,458.49 C92.75,460.21 92.46,462.00 91.96,463.65 C91.46,465.30 90.74,466.98 89.81,468.38 C88.88,469.78 87.80,471.12 86.37,472.08 C84.94,473.04 82.79,473.78 81.21,474.14 C79.63,474.50 77.98,474.47 76.91,474.23 C75.83,473.98 75.16,474.16 74.76,472.68Z" fill="none" stroke="#4a4a4a" stroke-width="0.4"/>
<path d="M75.84,471.12 C75.49,469.85 75.49,466.99 75.62,464.83 C75.74,462.67 76.05,459.96 76.58,458.17 C77.11,456.38 77.88,455.14 78.80,454.10 C79.72,453.06 80.96,452.41 82.13,451.95 C83.30,451.50 84.66,451.34 85.83,451.36 C87.00,451.39 88.30,451.58 89.16,452.10 C90.02,452.62 90.64,453.34 91.01,454.47 C91.38,455.60 91.44,457.43 91.38,458.91 C91.32,460.39 91.07,461.93 90.64,463.35 C90.21,464.77 89.59,466.21 88.79,467.42 C87.99,468.63 87.06,469.78 85.83,470.60 C84.60,471.43 82.75,472.07 81.39,472.38 C80.03,472.69 78.61,472.66 77.69,472.45 C76.77,472.24 76.19,472.39 75.84,471.12Z" fill="none" stroke="#4a4a4a" stroke-width="0.4"/>
<path d="M76.92,469.56 C76.63,468.50 76.63,466.10 76.73,464.29 C76.84,462.48 77.10,460.21 77.54,458.71 C77.98,457.21 78.62,456.17 79.40,455.30 C80.18,454.43 81.21,453.88 82.19,453.50 C83.17,453.12 84.31,452.99 85.29,453.01 C86.27,453.03 87.36,453.19 88.08,453.63 C88.80,454.06 89.32,454.66 89.63,455.61 C89.94,456.56 89.99,458.09 89.94,459.33 C89.89,460.57 89.68,461.86 89.32,463.05 C88.96,464.24 88.44,465.45 87.77,466.46 C87.10,467.47 86.32,468.43 85.29,469.13 C84.26,469.82 82.71,470.36 81.57,470.61 C80.43,470.87 79.25,470.85 78.47,470.68 C77.69,470.50 77.21,470.62 76.92,469.56Z" fill="none" stroke="#4a4a4a" stroke-width="0.4"/>
<path d="M78.00,468.00 C77.77,467.14 77.77,465.21 77.85,463.75 C77.93,462.29 78.14,460.46 78.50,459.25 C78.86,458.04 79.38,457.20 80.00,456.50 C80.62,455.80 81.46,455.36 82.25,455.05 C83.04,454.74 83.96,454.63 84.75,454.65 C85.54,454.67 86.42,454.80 87.00,455.15 C87.58,455.50 88.00,455.98 88.25,456.75 C88.50,457.52 88.54,458.75 88.50,459.75 C88.46,460.75 88.29,461.79 88.00,462.75 C87.71,463.71 87.29,464.68 86.75,465.50 C86.21,466.32 85.58,467.09 84.75,467.65 C83.92,468.21 82.67,468.64 81.75,468.85 C80.83,469.06 79.88,469.04 79.25,468.90 C78.62,468.76 78.23,468.86 78.00,468.00Z" fill="none" stroke="#4a4a4a" stroke-width="0.4"/>
<path d="M79.08,466.44 C78.90,465.79 78.90,464.32 78.97,463.21 C79.03,462.10 79.19,460.71 79.46,459.79 C79.73,458.87 80.12,458.23 80.60,457.70 C81.07,457.17 81.71,456.83 82.31,456.60 C82.91,456.36 83.61,456.28 84.21,456.29 C84.81,456.31 85.48,456.41 85.92,456.67 C86.36,456.94 86.68,457.31 86.87,457.89 C87.06,458.47 87.09,459.41 87.06,460.17 C87.03,460.93 86.90,461.72 86.68,462.45 C86.46,463.18 86.14,463.92 85.73,464.54 C85.32,465.16 84.84,465.75 84.21,466.17 C83.58,466.60 82.63,466.93 81.93,467.09 C81.23,467.24 80.50,467.23 80.03,467.12 C79.56,467.02 79.26,467.09 79.08,466.44Z" fill="none" stroke="#4a4a4a" stroke-width="0.4"/>
<path d="M80.16,464.88 C80.04,464.43 80.04,463.43 80.08,462.67 C80.13,461.91 80.23,460.96 80.42,460.33 C80.61,459.70 80.88,459.26 81.20,458.90 C81.53,458.54 81.96,458.31 82.37,458.15 C82.78,457.99 83.26,457.93 83.67,457.94 C84.08,457.95 84.54,458.02 84.84,458.20 C85.14,458.38 85.36,458.63 85.49,459.03 C85.62,459.43 85.64,460.07 85.62,460.59 C85.60,461.11 85.51,461.65 85.36,462.15 C85.21,462.65 84.99,463.16 84.71,463.58 C84.43,464.00 84.10,464.41 83.67,464.70 C83.24,464.99 82.59,465.21 82.11,465.32 C81.63,465.43 81.14,465.42 80.81,465.35 C80.48,465.27 80.28,465.33 80.16,464.88Z" fill="none" stroke="#4a4a4a" stroke-width="0.4"/>
<defs><linearGradient id="g2" gradientUnits="userSpaceOnUse" x1="0" y1="462" x2="0" y2="477"><stop offset="0" stop-color="rgba(255,255,255,0)"/><stop offset="1" stop-color="rgba(235,235,235,0.55)"/></linearGradient></defs>
<path d="M73.50,474.50 C73.03,472.78 73.03,468.92 73.20,466.00 C73.37,463.08 73.78,459.42 74.50,457.00 C75.22,454.58 76.25,452.90 77.50,451.50 C78.75,450.10 80.42,449.22 82.00,448.60 C83.58,447.98 85.42,447.77 87.00,447.80 C88.58,447.83 90.33,448.10 91.50,448.80 C92.67,449.50 93.50,450.47 94.00,452.00 C94.50,453.53 94.58,456.00 94.50,458.00 C94.42,460.00 94.08,462.08 93.50,464.00 C92.92,465.92 92.08,467.87 91.00,469.50 C89.92,471.13 88.67,472.68 87.00,473.80 C85.33,474.92 82.83,475.78 81.00,476.20 C79.17,476.62 77.25,476.58 76.00,476.30 C74.75,476.02 73.97,476.22 73.50,474.50Z" fill="url(#g2)" stroke="none" stroke-width="0" />
<defs><linearGradient id="g3" gradientUnits="userSpaceOnUse" x1="62" y1="0" x2="98" y2="0"><stop offset="0" stop-color="#1c1c1c"/><stop offset="0.3" stop-color="#454545"/><stop offset="0.6" stop-color="#727272"/><stop offset="1" stop-color="#8e8e8e"/></linearGradient></defs>
<path d="M62.20,490.00 C62.37,488.42 62.70,485.92 63.50,484.50 C64.30,483.08 65.58,482.12 67.00,481.50 C68.42,480.88 70.17,480.85 72.00,480.80 C73.83,480.75 75.83,480.92 78.00,481.20 C80.17,481.48 82.83,481.87 85.00,482.50 C87.17,483.13 89.17,484.00 91.00,485.00 C92.83,486.00 94.80,487.25 96.00,488.50 C97.20,489.75 98.28,491.17 98.20,492.50 C98.12,493.83 97.03,495.28 95.50,496.50 C93.97,497.72 91.58,499.02 89.00,499.80 C86.42,500.58 83.17,501.00 80.00,501.20 C76.83,501.40 72.58,501.53 70.00,501.00 C67.42,500.47 65.75,499.17 64.50,498.00 C63.25,496.83 62.88,495.33 62.50,494.00 C62.12,492.67 62.03,491.58 62.20,490.00Z" fill="url(#g3)" stroke="#1a1a1a" stroke-width="1.0" />
<path d="M63.58,490.10 C63.73,488.68 64.03,486.42 64.75,485.15 C65.47,483.88 66.62,483.00 67.90,482.45 C69.18,481.89 70.75,481.87 72.40,481.82 C74.05,481.77 75.85,481.93 77.80,482.18 C79.75,482.44 82.15,482.78 84.10,483.35 C86.05,483.92 87.85,484.70 89.50,485.60 C91.15,486.50 92.92,487.62 94.00,488.75 C95.08,489.88 96.06,491.15 95.98,492.35 C95.91,493.55 94.93,494.86 93.55,495.95 C92.17,497.04 90.03,498.22 87.70,498.92 C85.38,499.62 82.45,500.00 79.60,500.18 C76.75,500.36 72.92,500.48 70.60,500.00 C68.27,499.52 66.78,498.35 65.65,497.30 C64.53,496.25 64.20,494.90 63.85,493.70 C63.51,492.50 63.43,491.53 63.58,490.10Z" fill="none" stroke="#555" stroke-width="0.4"/>
<path d="M64.96,490.20 C65.09,488.93 65.36,486.93 66.00,485.80 C66.64,484.67 67.67,483.89 68.80,483.40 C69.93,482.91 71.33,482.88 72.80,482.84 C74.27,482.80 75.87,482.93 77.60,483.16 C79.33,483.39 81.47,483.69 83.20,484.20 C84.93,484.71 86.53,485.40 88.00,486.20 C89.47,487.00 91.04,488.00 92.00,489.00 C92.96,490.00 93.83,491.13 93.76,492.20 C93.69,493.27 92.83,494.43 91.60,495.40 C90.37,496.37 88.47,497.41 86.40,498.04 C84.33,498.67 81.73,499.00 79.20,499.16 C76.67,499.32 73.27,499.43 71.20,499.00 C69.13,498.57 67.80,497.53 66.80,496.60 C65.80,495.67 65.51,494.47 65.20,493.40 C64.89,492.33 64.83,491.47 64.96,490.20Z" fill="none" stroke="#555" stroke-width="0.4"/>
<path d="M66.34,490.30 C66.46,489.19 66.69,487.44 67.25,486.45 C67.81,485.46 68.71,484.78 69.70,484.35 C70.69,483.92 71.92,483.90 73.20,483.86 C74.48,483.82 75.88,483.94 77.40,484.14 C78.92,484.34 80.78,484.61 82.30,485.05 C83.82,485.49 85.22,486.10 86.50,486.80 C87.78,487.50 89.16,488.38 90.00,489.25 C90.84,490.12 91.60,491.12 91.54,492.05 C91.48,492.98 90.72,494.00 89.65,494.85 C88.58,495.70 86.91,496.61 85.10,497.16 C83.29,497.71 81.02,498.00 78.80,498.14 C76.58,498.28 73.61,498.37 71.80,498.00 C69.99,497.63 68.83,496.72 67.95,495.90 C67.08,495.08 66.82,494.03 66.55,493.10 C66.28,492.17 66.22,491.41 66.34,490.30Z" fill="none" stroke="#555" stroke-width="0.4"/>
<path d="M67.72,490.40 C67.82,489.45 68.02,487.95 68.50,487.10 C68.98,486.25 69.75,485.67 70.60,485.30 C71.45,484.93 72.50,484.91 73.60,484.88 C74.70,484.85 75.90,484.95 77.20,485.12 C78.50,485.29 80.10,485.52 81.40,485.90 C82.70,486.28 83.90,486.80 85.00,487.40 C86.10,488.00 87.28,488.75 88.00,489.50 C88.72,490.25 89.37,491.10 89.32,491.90 C89.27,492.70 88.62,493.57 87.70,494.30 C86.78,495.03 85.35,495.81 83.80,496.28 C82.25,496.75 80.30,497.00 78.40,497.12 C76.50,497.24 73.95,497.32 72.40,497.00 C70.85,496.68 69.85,495.90 69.10,495.20 C68.35,494.50 68.13,493.60 67.90,492.80 C67.67,492.00 67.62,491.35 67.72,490.40Z" fill="none" stroke="#555" stroke-width="0.4"/>
<path d="M69.10,490.50 C69.18,489.71 69.35,488.46 69.75,487.75 C70.15,487.04 70.79,486.56 71.50,486.25 C72.21,485.94 73.08,485.92 74.00,485.90 C74.92,485.88 75.92,485.96 77.00,486.10 C78.08,486.24 79.42,486.43 80.50,486.75 C81.58,487.07 82.58,487.50 83.50,488.00 C84.42,488.50 85.40,489.12 86.00,489.75 C86.60,490.38 87.14,491.08 87.10,491.75 C87.06,492.42 86.52,493.14 85.75,493.75 C84.98,494.36 83.79,495.01 82.50,495.40 C81.21,495.79 79.58,496.00 78.00,496.10 C76.42,496.20 74.29,496.27 73.00,496.00 C71.71,495.73 70.88,495.08 70.25,494.50 C69.62,493.92 69.44,493.17 69.25,492.50 C69.06,491.83 69.02,491.29 69.10,490.50Z" fill="none" stroke="#555" stroke-width="0.4"/>
<path d="M70.48,490.60 C70.55,489.97 70.68,488.97 71.00,488.40 C71.32,487.83 71.83,487.45 72.40,487.20 C72.97,486.95 73.67,486.94 74.40,486.92 C75.13,486.90 75.93,486.97 76.80,487.08 C77.67,487.19 78.73,487.35 79.60,487.60 C80.47,487.85 81.27,488.20 82.00,488.60 C82.73,489.00 83.52,489.50 84.00,490.00 C84.48,490.50 84.91,491.07 84.88,491.60 C84.85,492.13 84.41,492.71 83.80,493.20 C83.19,493.69 82.23,494.21 81.20,494.52 C80.17,494.83 78.87,495.00 77.60,495.08 C76.33,495.16 74.63,495.21 73.60,495.00 C72.57,494.79 71.90,494.27 71.40,493.80 C70.90,493.33 70.75,492.73 70.60,492.20 C70.45,491.67 70.41,491.23 70.48,490.60Z" fill="none" stroke="#555" stroke-width="0.4"/>
<ellipse cx="71" cy="490.6" rx="4.2" ry="2.0" fill="#eeeeee" filter="url(#blur1)"/>
<path d="M72,491 L83,491.6" stroke="#cfcfcf" stroke-width="1.4" filter="url(#blur05)"/>
<rect x="63.4" y="506.1" width="33.199999999999996" height="2.4" rx="1.2" fill="#0a0a0a"/>
<line x1="73.40" y1="434.30" x2="73.40" y2="507.80" stroke="#333" stroke-width="0.9" />
<line x1="48.60" y1="479.30" x2="120.30" y2="479.30" stroke="#333" stroke-width="0.9" />
<rect x="48.60" y="434.30" width="71.70" height="73.50" fill="none" stroke="#8a8a8a" stroke-width="0.6"/>
<line x1="46.80" y1="441.20" x2="48.60" y2="441.20" stroke="#333" stroke-width="0.9" />
<line x1="46.80" y1="458.50" x2="48.60" y2="458.50" stroke="#333" stroke-width="0.9" />
<line x1="46.80" y1="477.80" x2="48.60" y2="477.80" stroke="#333" stroke-width="0.9" />
<line x1="46.80" y1="489.60" x2="48.60" y2="489.60" stroke="#333" stroke-width="0.9" />
<line x1="46.80" y1="501.20" x2="48.60" y2="501.20" stroke="#333" stroke-width="0.9" />
<line x1="47.60" y1="453.29" x2="48.60" y2="453.29" stroke="#555" stroke-width="0.6" />
<line x1="47.60" y1="450.25" x2="48.60" y2="450.25" stroke="#555" stroke-width="0.6" />
<line x1="47.60" y1="448.08" x2="48.60" y2="448.08" stroke="#555" stroke-width="0.6" />
<line x1="47.60" y1="446.41" x2="48.60" y2="446.41" stroke="#555" stroke-width="0.6" />
<line x1="47.60" y1="445.04" x2="48.60" y2="445.04" stroke="#555" stroke-width="0.6" />
<line x1="47.60" y1="443.88" x2="48.60" y2="443.88" stroke="#555" stroke-width="0.6" />
<line x1="47.60" y1="442.88" x2="48.60" y2="442.88" stroke="#555" stroke-width="0.6" />
<line x1="47.60" y1="441.99" x2="48.60" y2="441.99" stroke="#555" stroke-width="0.6" />
<line x1="47.60" y1="471.99" x2="48.60" y2="471.99" stroke="#555" stroke-width="0.6" />
<line x1="47.60" y1="468.59" x2="48.60" y2="468.59" stroke="#555" stroke-width="0.6" />
<line x1="47.60" y1="466.18" x2="48.60" y2="466.18" stroke="#555" stroke-width="0.6" />
<line x1="47.60" y1="464.31" x2="48.60" y2="464.31" stroke="#555" stroke-width="0.6" />
<line x1="47.60" y1="462.78" x2="48.60" y2="462.78" stroke="#555" stroke-width="0.6" />
<line x1="47.60" y1="461.49" x2="48.60" y2="461.49" stroke="#555" stroke-width="0.6" />
<line x1="47.60" y1="460.37" x2="48.60" y2="460.37" stroke="#555" stroke-width="0.6" />
<line x1="47.60" y1="459.38" x2="48.60" y2="459.38" stroke="#555" stroke-width="0.6" />
<text x="39.20" y="442.90" font-size="7.1" text-anchor="end" fill="#1e1e1e" stroke="#1e1e1e" stroke-width="0.15">10</text>
<text x="39.30" y="439.90" font-size="5.3" text-anchor="start" fill="#1e1e1e" stroke="#1e1e1e" stroke-width="0.15">5</text>
<text x="39.20" y="460.00" font-size="7.1" text-anchor="end" fill="#1e1e1e" stroke="#1e1e1e" stroke-width="0.15">10</text>
<text x="39.30" y="457.00" font-size="5.3" text-anchor="start" fill="#1e1e1e" stroke="#1e1e1e" stroke-width="0.15">4</text>
<text x="39.20" y="479.30" font-size="7.1" text-anchor="end" fill="#1e1e1e" stroke="#1e1e1e" stroke-width="0.15">10</text>
<text x="39.30" y="476.30" font-size="5.3" text-anchor="start" fill="#1e1e1e" stroke="#1e1e1e" stroke-width="0.15">3</text>
<text x="43.00" y="491.40" font-size="7.1" text-anchor="end" fill="#1e1e1e" stroke="#1e1e1e" stroke-width="0.15">0</text>
<text x="39.20" y="504.00" font-size="7.1" text-anchor="end" fill="#1e1e1e" stroke="#1e1e1e" stroke-width="0.15">&#8722;10</text>
<text x="39.30" y="501.00" font-size="5.3" text-anchor="start" fill="#1e1e1e" stroke="#1e1e1e" stroke-width="0.15">3</text>
<line x1="50.90" y1="507.80" x2="50.90" y2="509.40" stroke="#333" stroke-width="0.8" />
<line x1="64.50" y1="507.80" x2="64.50" y2="509.40" stroke="#333" stroke-width="0.8" />
<line x1="75.15" y1="507.80" x2="75.15" y2="509.40" stroke="#333" stroke-width="0.8" />
<line x1="95.55" y1="507.80" x2="95.55" y2="509.40" stroke="#333" stroke-width="0.8" />
<line x1="111.90" y1="507.80" x2="111.90" y2="509.40" stroke="#333" stroke-width="0.8" />
<text x="54.85" y="518.90" font-size="7.1" text-anchor="end" fill="#1e1e1e" stroke="#1e1e1e" stroke-width="0.15">&#8722;10</text>
<text x="54.95" y="515.90" font-size="5.3" text-anchor="start" fill="#1e1e1e" stroke="#1e1e1e" stroke-width="0.15">3</text>
<text x="64.50" y="518.90" font-size="7.1" text-anchor="middle" fill="#1e1e1e" stroke="#1e1e1e" stroke-width="0.15">0</text>
<text x="79.10" y="518.90" font-size="7.1" text-anchor="end" fill="#1e1e1e" stroke="#1e1e1e" stroke-width="0.15">10</text>
<text x="79.20" y="515.90" font-size="5.3" text-anchor="start" fill="#1e1e1e" stroke="#1e1e1e" stroke-width="0.15">3</text>
<text x="99.50" y="518.90" font-size="7.1" text-anchor="end" fill="#1e1e1e" stroke="#1e1e1e" stroke-width="0.15">10</text>
<text x="99.60" y="515.90" font-size="5.3" text-anchor="start" fill="#1e1e1e" stroke="#1e1e1e" stroke-width="0.15">4</text>
<text x="115.85" y="518.90" font-size="7.1" text-anchor="end" fill="#1e1e1e" stroke="#1e1e1e" stroke-width="0.15">10</text>
<text x="115.95" y="515.90" font-size="5.3" text-anchor="start" fill="#1e1e1e" stroke="#1e1e1e" stroke-width="0.15">5</text>
<rect x="47.00" y="488.5" width="1.6" height="3" fill="#111"/>
<text x="50.10" y="439.80" font-size="5.0" text-anchor="start" font-weight="normal" fill="#222" stroke="#222" stroke-width="0.18" >Q5</text>
<text x="50.10" y="445.30" font-size="5.0" text-anchor="start" font-weight="normal" fill="#222" stroke="#222" stroke-width="0.18" >1.54</text>
<text x="60.80" y="455.60" font-size="5.0" text-anchor="middle" font-weight="normal" fill="#222" stroke="#222" stroke-width="0.18" >Lin-ckit+</text>
<text x="60.80" y="460.90" font-size="5.0" text-anchor="middle" font-weight="normal" fill="#222" stroke="#222" stroke-width="0.18" >1.47</text>
<text x="117.70" y="439.80" font-size="5.0" text-anchor="end" font-weight="normal" fill="#222" stroke="#222" stroke-width="0.18" >Q6</text>
<text x="117.70" y="445.30" font-size="5.0" text-anchor="end" font-weight="normal" fill="#222" stroke="#222" stroke-width="0.18" >39.8</text>
<text x="118.30" y="455.10" font-size="5.0" text-anchor="end" font-weight="normal" fill="#222" stroke="#222" stroke-width="0.18" >ckit+</text>
<text x="117.90" y="460.60" font-size="5.0" text-anchor="end" font-weight="normal" fill="#222" stroke="#222" stroke-width="0.18" >41.3</text>
<text x="50.10" y="499.20" font-size="5.0" text-anchor="start" font-weight="normal" fill="#222" stroke="#222" stroke-width="0.18" >Q8</text>
<text x="50.10" y="504.80" font-size="5.0" text-anchor="start" font-weight="normal" fill="#222" stroke="#222" stroke-width="0.18" >27.1</text>
<text x="115.60" y="499.20" font-size="5.0" text-anchor="end" font-weight="normal" fill="#222" stroke="#222" stroke-width="0.18" >Q7</text>
<text x="115.60" y="504.80" font-size="5.0" text-anchor="end" font-weight="normal" fill="#222" stroke="#222" stroke-width="0.18" >31.6</text>
<text x="142.30" y="421.30" font-size="10.7" text-anchor="start" font-weight="bold" fill="#000" stroke="#000" stroke-width="0" >K</text>
<text x="215.00" y="429.10" font-size="9.5" text-anchor="middle" font-weight="normal" fill="#1e1e1e" stroke="#1e1e1e" stroke-width="0.18" >NT MI-503</text>
<ellipse cx="213" cy="462" rx="14" ry="18" transform="rotate(0 213 462)" fill="#e3e3e3" filter="url(#blur2)"/>
<ellipse cx="209" cy="494" rx="20" ry="15" transform="rotate(0 209 494)" fill="#e3e3e3" filter="url(#blur2)"/>
<defs><linearGradient id="g4" gradientUnits="userSpaceOnUse" x1="0" y1="448" x2="0" y2="476"><stop offset="0" stop-color="#6a6a6a"/><stop offset="0.45" stop-color="#8a8a8a"/><stop offset="1" stop-color="#cfcfcf"/></linearGradient></defs>
<path d="M204.50,468.00 C204.22,465.42 203.97,460.83 204.30,458.00 C204.63,455.17 205.38,452.70 206.50,451.00 C207.62,449.30 209.33,448.42 211.00,447.80 C212.67,447.18 214.92,447.02 216.50,447.30 C218.08,447.58 219.58,448.22 220.50,449.50 C221.42,450.78 221.83,452.75 222.00,455.00 C222.17,457.25 221.92,460.50 221.50,463.00 C221.08,465.50 220.42,468.00 219.50,470.00 C218.58,472.00 217.58,474.00 216.00,475.00 C214.42,476.00 211.67,476.25 210.00,476.00 C208.33,475.75 206.92,474.83 206.00,473.50 C205.08,472.17 204.78,470.58 204.50,468.00Z" fill="url(#g4)" stroke="#3a3a3a" stroke-width="0.7" />
<path d="M205.33,467.00 C205.08,464.68 204.85,460.55 205.15,458.00 C205.45,455.45 206.12,453.23 207.13,451.70 C208.13,450.17 209.68,449.38 211.18,448.82 C212.68,448.26 214.70,448.12 216.13,448.37 C217.56,448.62 218.90,449.20 219.73,450.35 C220.56,451.50 220.93,453.28 221.08,455.30 C221.23,457.32 221.00,460.25 220.63,462.50 C220.25,464.75 219.66,467.00 218.83,468.80 C218.01,470.60 217.11,472.40 215.68,473.30 C214.25,474.20 211.78,474.43 210.28,474.20 C208.78,473.97 207.50,473.15 206.68,471.95 C205.86,470.75 205.59,469.32 205.33,467.00Z" fill="none" stroke="#666" stroke-width="0.4"/>
<path d="M206.16,466.00 C205.93,463.93 205.73,460.27 206.00,458.00 C206.27,455.73 206.87,453.76 207.76,452.40 C208.65,451.04 210.03,450.33 211.36,449.84 C212.69,449.35 214.49,449.21 215.76,449.44 C217.03,449.67 218.23,450.17 218.96,451.20 C219.69,452.23 220.03,453.80 220.16,455.60 C220.29,457.40 220.09,460.00 219.76,462.00 C219.43,464.00 218.89,466.00 218.16,467.60 C217.43,469.20 216.63,470.80 215.36,471.60 C214.09,472.40 211.89,472.60 210.56,472.40 C209.23,472.20 208.09,471.47 207.36,470.40 C206.63,469.33 206.39,468.07 206.16,466.00Z" fill="none" stroke="#666" stroke-width="0.4"/>
<path d="M206.99,465.00 C206.79,463.19 206.62,459.98 206.85,458.00 C207.08,456.02 207.61,454.29 208.39,453.10 C209.17,451.91 210.37,451.29 211.54,450.86 C212.71,450.43 214.28,450.31 215.39,450.51 C216.50,450.71 217.55,451.15 218.19,452.05 C218.83,452.95 219.12,454.32 219.24,455.90 C219.36,457.47 219.18,459.75 218.89,461.50 C218.60,463.25 218.13,465.00 217.49,466.40 C216.85,467.80 216.15,469.20 215.04,469.90 C213.93,470.60 212.01,470.78 210.84,470.60 C209.67,470.43 208.68,469.78 208.04,468.85 C207.40,467.92 207.19,466.81 206.99,465.00Z" fill="none" stroke="#666" stroke-width="0.4"/>
<defs><radialGradient id="g5" gradientUnits="userSpaceOnUse" cx="212.8" cy="455.8" r="6.2" gradientTransform="translate(212.8 455.8) rotate(-20) scale(1.0 0.9) translate(-212.8 -455.8)"><stop offset="0" stop-color="#f4f4f4"/><stop offset="0.3" stop-color="#e0e0e0"/><stop offset="0.5" stop-color="#444"/><stop offset="0.8" stop-color="#1e1e1e"/><stop offset="1" stop-color="#2a2a2a"/></radialGradient></defs>
<path d="M218.44,453.75 C218.75,454.59 218.81,455.66 218.61,456.56 C218.40,457.46 217.88,458.45 217.22,459.17 C216.56,459.89 215.59,460.53 214.65,460.87 C213.71,461.22 212.55,461.35 211.58,461.22 C210.61,461.09 209.58,460.68 208.84,460.11 C208.10,459.55 207.47,458.70 207.16,457.85 C206.85,457.01 206.79,455.94 206.99,455.04 C207.20,454.14 207.72,453.15 208.38,452.43 C209.04,451.71 210.01,451.07 210.95,450.73 C211.89,450.38 213.05,450.25 214.02,450.38 C214.99,450.51 216.02,450.92 216.76,451.49 C217.50,452.05 218.13,452.90 218.44,453.75Z" fill="url(#g5)" stroke="#222" stroke-width="0.6" />
<defs><linearGradient id="g6" gradientUnits="userSpaceOnUse" x1="193" y1="0" x2="226" y2="0"><stop offset="0" stop-color="#262626"/><stop offset="0.25" stop-color="#555"/><stop offset="0.5" stop-color="#858585"/><stop offset="1" stop-color="#ababab"/></linearGradient></defs>
<path d="M193.00,500.00 C192.75,497.58 192.83,494.33 193.50,492.00 C194.17,489.67 195.42,487.58 197.00,486.00 C198.58,484.42 200.83,483.12 203.00,482.50 C205.17,481.88 207.67,481.97 210.00,482.30 C212.33,482.63 214.92,483.38 217.00,484.50 C219.08,485.62 221.08,487.08 222.50,489.00 C223.92,490.92 225.00,493.67 225.50,496.00 C226.00,498.33 226.42,501.25 225.50,503.00 C224.58,504.75 223.42,505.83 220.00,506.50 C216.58,507.17 209.17,507.00 205.00,507.00 C200.83,507.00 197.00,507.67 195.00,506.50 C193.00,505.33 193.25,502.42 193.00,500.00Z" fill="url(#g6)" stroke="#666" stroke-width="0.6" />
<path d="M194.68,499.52 C194.46,497.39 194.53,494.53 195.12,492.48 C195.71,490.43 196.81,488.59 198.20,487.20 C199.59,485.81 201.57,484.66 203.48,484.12 C205.39,483.58 207.59,483.65 209.64,483.94 C211.69,484.24 213.97,484.90 215.80,485.88 C217.63,486.86 219.39,488.15 220.64,489.84 C221.89,491.53 222.84,493.95 223.28,496.00 C223.72,498.05 224.09,500.62 223.28,502.16 C222.47,503.70 221.45,504.65 218.44,505.24 C215.43,505.83 208.91,505.68 205.24,505.68 C201.57,505.68 198.20,506.27 196.44,505.24 C194.68,504.21 194.90,501.65 194.68,499.52Z" fill="none" stroke="#8a8a8a" stroke-width="0.4"/>
<path d="M196.36,499.04 C196.17,497.20 196.23,494.73 196.74,492.96 C197.25,491.19 198.20,489.60 199.40,488.40 C200.60,487.20 202.31,486.21 203.96,485.74 C205.61,485.27 207.51,485.33 209.28,485.59 C211.05,485.84 213.02,486.41 214.60,487.26 C216.18,488.11 217.70,489.22 218.78,490.68 C219.86,492.14 220.68,494.23 221.06,496.00 C221.44,497.77 221.76,499.99 221.06,501.32 C220.36,502.65 219.48,503.47 216.88,503.98 C214.28,504.49 208.65,504.36 205.48,504.36 C202.31,504.36 199.40,504.87 197.88,503.98 C196.36,503.09 196.55,500.88 196.36,499.04Z" fill="none" stroke="#8a8a8a" stroke-width="0.4"/>
<path d="M198.04,498.56 C197.88,497.01 197.93,494.93 198.36,493.44 C198.79,491.95 199.59,490.61 200.60,489.60 C201.61,488.59 203.05,487.75 204.44,487.36 C205.83,486.97 207.43,487.02 208.92,487.23 C210.41,487.45 212.07,487.93 213.40,488.64 C214.73,489.35 216.01,490.29 216.92,491.52 C217.83,492.75 218.52,494.51 218.84,496.00 C219.16,497.49 219.43,499.36 218.84,500.48 C218.25,501.60 217.51,502.29 215.32,502.72 C213.13,503.15 208.39,503.04 205.72,503.04 C203.05,503.04 200.60,503.47 199.32,502.72 C198.04,501.97 198.20,500.11 198.04,498.56Z" fill="none" stroke="#8a8a8a" stroke-width="0.4"/>
<path d="M199.72,498.08 C199.59,496.82 199.63,495.13 199.98,493.92 C200.33,492.71 200.98,491.62 201.80,490.80 C202.62,489.98 203.79,489.30 204.92,488.98 C206.05,488.66 207.35,488.70 208.56,488.88 C209.77,489.05 211.12,489.44 212.20,490.02 C213.28,490.60 214.32,491.36 215.06,492.36 C215.80,493.36 216.36,494.79 216.62,496.00 C216.88,497.21 217.10,498.73 216.62,499.64 C216.14,500.55 215.54,501.11 213.76,501.46 C211.98,501.81 208.13,501.72 205.96,501.72 C203.79,501.72 201.80,502.07 200.76,501.46 C199.72,500.85 199.85,499.34 199.72,498.08Z" fill="none" stroke="#8a8a8a" stroke-width="0.4"/>
<ellipse cx="199.6" cy="498.4" rx="1.8" ry="4.2" fill="#f0f0f0" filter="url(#blur05)"/>
<rect x="191.3" y="506.1" width="34.69999999999999" height="2.4" rx="1.2" fill="#0a0a0a"/>
<line x1="203.50" y1="434.30" x2="203.50" y2="507.80" stroke="#333" stroke-width="0.9" />
<line x1="178.70" y1="479.30" x2="249.70" y2="479.30" stroke="#333" stroke-width="0.9" />
<rect x="178.70" y="434.30" width="71.00" height="73.50" fill="none" stroke="#8a8a8a" stroke-width="0.6"/>
<line x1="176.90" y1="441.20" x2="178.70" y2="441.20" stroke="#333" stroke-width="0.9" />
<line x1="176.90" y1="458.50" x2="178.70" y2="458.50" stroke="#333" stroke-width="0.9" />
<line x1="176.90" y1="477.80" x2="178.70" y2="477.80" stroke="#333" stroke-width="0.9" />
<line x1="176.90" y1="489.60" x2="178.70" y2="489.60" stroke="#333" stroke-width="0.9" />
<line x1="176.90" y1="501.20" x2="178.70" y2="501.20" stroke="#333" stroke-width="0.9" />
<line x1="177.70" y1="453.29" x2="178.70" y2="453.29" stroke="#555" stroke-width="0.6" />
<line x1="177.70" y1="450.25" x2="178.70" y2="450.25" stroke="#555" stroke-width="0.6" />
<line x1="177.70" y1="448.08" x2="178.70" y2="448.08" stroke="#555" stroke-width="0.6" />
<line x1="177.70" y1="446.41" x2="178.70" y2="446.41" stroke="#555" stroke-width="0.6" />
<line x1="177.70" y1="445.04" x2="178.70" y2="445.04" stroke="#555" stroke-width="0.6" />
<line x1="177.70" y1="443.88" x2="178.70" y2="443.88" stroke="#555" stroke-width="0.6" />
<line x1="177.70" y1="442.88" x2="178.70" y2="442.88" stroke="#555" stroke-width="0.6" />
<line x1="177.70" y1="441.99" x2="178.70" y2="441.99" stroke="#555" stroke-width="0.6" />
<line x1="177.70" y1="471.99" x2="178.70" y2="471.99" stroke="#555" stroke-width="0.6" />
<line x1="177.70" y1="468.59" x2="178.70" y2="468.59" stroke="#555" stroke-width="0.6" />
<line x1="177.70" y1="466.18" x2="178.70" y2="466.18" stroke="#555" stroke-width="0.6" />
<line x1="177.70" y1="464.31" x2="178.70" y2="464.31" stroke="#555" stroke-width="0.6" />
<line x1="177.70" y1="462.78" x2="178.70" y2="462.78" stroke="#555" stroke-width="0.6" />
<line x1="177.70" y1="461.49" x2="178.70" y2="461.49" stroke="#555" stroke-width="0.6" />
<line x1="177.70" y1="460.37" x2="178.70" y2="460.37" stroke="#555" stroke-width="0.6" />
<line x1="177.70" y1="459.38" x2="178.70" y2="459.38" stroke="#555" stroke-width="0.6" />
<text x="169.30" y="442.90" font-size="7.1" text-anchor="end" fill="#1e1e1e" stroke="#1e1e1e" stroke-width="0.15">10</text>
<text x="169.40" y="439.90" font-size="5.3" text-anchor="start" fill="#1e1e1e" stroke="#1e1e1e" stroke-width="0.15">5</text>
<text x="169.30" y="460.00" font-size="7.1" text-anchor="end" fill="#1e1e1e" stroke="#1e1e1e" stroke-width="0.15">10</text>
<text x="169.40" y="457.00" font-size="5.3" text-anchor="start" fill="#1e1e1e" stroke="#1e1e1e" stroke-width="0.15">4</text>
<text x="169.30" y="479.30" font-size="7.1" text-anchor="end" fill="#1e1e1e" stroke="#1e1e1e" stroke-width="0.15">10</text>
<text x="169.40" y="476.30" font-size="5.3" text-anchor="start" fill="#1e1e1e" stroke="#1e1e1e" stroke-width="0.15">3</text>
<text x="173.10" y="491.40" font-size="7.1" text-anchor="end" fill="#1e1e1e" stroke="#1e1e1e" stroke-width="0.15">0</text>
<text x="169.30" y="504.00" font-size="7.1" text-anchor="end" fill="#1e1e1e" stroke="#1e1e1e" stroke-width="0.15">&#8722;10</text>
<text x="169.40" y="501.00" font-size="5.3" text-anchor="start" fill="#1e1e1e" stroke="#1e1e1e" stroke-width="0.15">3</text>
<line x1="181.00" y1="507.80" x2="181.00" y2="509.40" stroke="#333" stroke-width="0.8" />
<line x1="194.60" y1="507.80" x2="194.60" y2="509.40" stroke="#333" stroke-width="0.8" />
<line x1="205.25" y1="507.80" x2="205.25" y2="509.40" stroke="#333" stroke-width="0.8" />
<line x1="225.65" y1="507.80" x2="225.65" y2="509.40" stroke="#333" stroke-width="0.8" />
<line x1="242.00" y1="507.80" x2="242.00" y2="509.40" stroke="#333" stroke-width="0.8" />
<text x="184.95" y="518.90" font-size="7.1" text-anchor="end" fill="#1e1e1e" stroke="#1e1e1e" stroke-width="0.15">&#8722;10</text>
<text x="185.05" y="515.90" font-size="5.3" text-anchor="start" fill="#1e1e1e" stroke="#1e1e1e" stroke-width="0.15">3</text>
<text x="194.60" y="518.90" font-size="7.1" text-anchor="middle" fill="#1e1e1e" stroke="#1e1e1e" stroke-width="0.15">0</text>
<text x="209.20" y="518.90" font-size="7.1" text-anchor="end" fill="#1e1e1e" stroke="#1e1e1e" stroke-width="0.15">10</text>
<text x="209.30" y="515.90" font-size="5.3" text-anchor="start" fill="#1e1e1e" stroke="#1e1e1e" stroke-width="0.15">3</text>
<text x="229.60" y="518.90" font-size="7.1" text-anchor="end" fill="#1e1e1e" stroke="#1e1e1e" stroke-width="0.15">10</text>
<text x="229.70" y="515.90" font-size="5.3" text-anchor="start" fill="#1e1e1e" stroke="#1e1e1e" stroke-width="0.15">4</text>
<text x="245.95" y="518.90" font-size="7.1" text-anchor="end" fill="#1e1e1e" stroke="#1e1e1e" stroke-width="0.15">10</text>
<text x="246.05" y="515.90" font-size="5.3" text-anchor="start" fill="#1e1e1e" stroke="#1e1e1e" stroke-width="0.15">5</text>
<rect x="177.10" y="488.5" width="1.6" height="3" fill="#111"/>
<text x="180.20" y="439.80" font-size="5.0" text-anchor="start" font-weight="normal" fill="#222" stroke="#222" stroke-width="0.18" >Q5</text>
<text x="180.20" y="445.30" font-size="5.0" text-anchor="start" font-weight="normal" fill="#222" stroke="#222" stroke-width="0.18" >0.80</text>
<text x="190.90" y="456.30" font-size="5.0" text-anchor="middle" font-weight="normal" fill="#222" stroke="#222" stroke-width="0.18" >Lin-ckit+</text>
<text x="190.90" y="461.60" font-size="5.0" text-anchor="middle" font-weight="normal" fill="#222" stroke="#222" stroke-width="0.18" >0.76</text>
<text x="247.10" y="439.80" font-size="5.0" text-anchor="end" font-weight="normal" fill="#222" stroke="#222" stroke-width="0.18" >Q6</text>
<text x="247.10" y="445.30" font-size="5.0" text-anchor="end" font-weight="normal" fill="#222" stroke="#222" stroke-width="0.18" >35.4</text>
<text x="247.70" y="459.00" font-size="5.0" text-anchor="end" font-weight="normal" fill="#222" stroke="#222" stroke-width="0.18" >ckit+</text>
<text x="247.30" y="464.50" font-size="5.0" text-anchor="end" font-weight="normal" fill="#222" stroke="#222" stroke-width="0.18" >36.2</text>
<text x="180.20" y="499.20" font-size="5.0" text-anchor="start" font-weight="normal" fill="#222" stroke="#222" stroke-width="0.18" >Q8</text>
<text x="180.20" y="504.80" font-size="5.0" text-anchor="start" font-weight="normal" fill="#222" stroke="#222" stroke-width="0.18" >29.3</text>
<text x="246.00" y="499.20" font-size="5.0" text-anchor="end" font-weight="normal" fill="#222" stroke="#222" stroke-width="0.18" >Q7</text>
<text x="246.00" y="504.80" font-size="5.0" text-anchor="end" font-weight="normal" fill="#222" stroke="#222" stroke-width="0.18" >34.4</text>
<text x="266.50" y="421.30" font-size="10.7" text-anchor="start" font-weight="bold" fill="#000" stroke="#000" stroke-width="0" >L</text>
<text x="342.00" y="429.10" font-size="9.5" text-anchor="middle" font-weight="normal" fill="#1e1e1e" stroke="#1e1e1e" stroke-width="0.18" >KO DMSO</text>
<ellipse cx="346" cy="464" rx="18" ry="19" transform="rotate(0 346 464)" fill="#e3e3e3" filter="url(#blur2)"/>
<ellipse cx="343" cy="496" rx="24" ry="14" transform="rotate(0 343 496)" fill="#e3e3e3" filter="url(#blur2)"/>
<path d="M333.00,468.00 C332.33,464.50 333.17,459.00 334.00,456.00 C334.83,453.00 336.17,451.25 338.00,450.00 C339.83,448.75 342.67,448.42 345.00,448.50 C347.33,448.58 349.83,449.67 352.00,450.50 C354.17,451.33 356.50,451.75 358.00,453.50 C359.50,455.25 360.67,458.25 361.00,461.00 C361.33,463.75 361.00,467.33 360.00,470.00 C359.00,472.67 357.33,475.50 355.00,477.00 C352.67,478.50 348.83,479.00 346.00,479.00 C343.17,479.00 340.17,478.83 338.00,477.00 C335.83,475.17 333.67,471.50 333.00,468.00Z" fill="#dadada" stroke="#b0b0b0" stroke-width="0.5" />
<path d="M334.40,467.60 C333.80,464.45 334.55,459.50 335.30,456.80 C336.05,454.10 337.25,452.52 338.90,451.40 C340.55,450.27 343.10,449.98 345.20,450.05 C347.30,450.12 349.55,451.10 351.50,451.85 C353.45,452.60 355.55,452.98 356.90,454.55 C358.25,456.12 359.30,458.83 359.60,461.30 C359.90,463.77 359.60,467.00 358.70,469.40 C357.80,471.80 356.30,474.35 354.20,475.70 C352.10,477.05 348.65,477.50 346.10,477.50 C343.55,477.50 340.85,477.35 338.90,475.70 C336.95,474.05 335.00,470.75 334.40,467.60Z" fill="none" stroke="#c0c0c0" stroke-width="0.4"/>
<path d="M335.80,467.20 C335.27,464.40 335.93,460.00 336.60,457.60 C337.27,455.20 338.33,453.80 339.80,452.80 C341.27,451.80 343.53,451.53 345.40,451.60 C347.27,451.67 349.27,452.53 351.00,453.20 C352.73,453.87 354.60,454.20 355.80,455.60 C357.00,457.00 357.93,459.40 358.20,461.60 C358.47,463.80 358.20,466.67 357.40,468.80 C356.60,470.93 355.27,473.20 353.40,474.40 C351.53,475.60 348.47,476.00 346.20,476.00 C343.93,476.00 341.53,475.87 339.80,474.40 C338.07,472.93 336.33,470.00 335.80,467.20Z" fill="none" stroke="#c0c0c0" stroke-width="0.4"/>
<path d="M349.50,456.00 C350.25,454.42 351.83,454.42 353.00,454.50 C354.17,454.58 355.63,455.25 356.50,456.50 C357.37,457.75 358.03,460.08 358.20,462.00 C358.37,463.92 358.20,466.50 357.50,468.00 C356.80,469.50 355.25,470.67 354.00,471.00 C352.75,471.33 350.92,471.17 350.00,470.00 C349.08,468.83 348.58,466.33 348.50,464.00 C348.42,461.67 348.75,457.58 349.50,456.00Z" fill="#d6d6d6" stroke="#8a8a8a" stroke-width="0.6" />
<path d="M350.50,457.62 C351.06,456.44 352.25,456.44 353.12,456.50 C354.00,456.56 355.10,457.06 355.75,458.00 C356.40,458.94 356.90,460.69 357.02,462.12 C357.15,463.56 357.02,465.50 356.50,466.62 C355.98,467.75 354.81,468.62 353.88,468.88 C352.94,469.12 351.56,469.00 350.88,468.12 C350.19,467.25 349.81,465.38 349.75,463.62 C349.69,461.88 349.94,458.81 350.50,457.62Z" fill="none" stroke="#aaa" stroke-width="0.4"/>
<path d="M351.50,459.25 C351.88,458.46 352.67,458.46 353.25,458.50 C353.83,458.54 354.57,458.88 355.00,459.50 C355.43,460.12 355.77,461.29 355.85,462.25 C355.93,463.21 355.85,464.50 355.50,465.25 C355.15,466.00 354.38,466.58 353.75,466.75 C353.12,466.92 352.21,466.83 351.75,466.25 C351.29,465.67 351.04,464.42 351.00,463.25 C350.96,462.08 351.12,460.04 351.50,459.25Z" fill="none" stroke="#aaa" stroke-width="0.4"/>
<defs><radialGradient id="g7" gradientUnits="userSpaceOnUse" cx="342" cy="462" r="11" gradientTransform="translate(342 462) rotate(0) scale(0.8 1.1) translate(-342 -462)"><stop offset="0" stop-color="#d8d8d8"/><stop offset="0.7" stop-color="#b8b8b8"/><stop offset="1" stop-color="#888"/></radialGradient></defs>
<path d="M334.50,466.00 C334.42,463.83 334.75,460.17 335.50,458.00 C336.25,455.83 337.67,454.08 339.00,453.00 C340.33,451.92 342.00,451.42 343.50,451.50 C345.00,451.58 347.00,452.25 348.00,453.50 C349.00,454.75 349.42,456.92 349.50,459.00 C349.58,461.08 349.17,464.00 348.50,466.00 C347.83,468.00 346.92,469.92 345.50,471.00 C344.08,472.08 341.58,472.50 340.00,472.50 C338.42,472.50 336.92,472.08 336.00,471.00 C335.08,469.92 334.58,468.17 334.50,466.00Z" fill="url(#g7)" stroke="#333" stroke-width="0.9" />
<path d="M335.62,465.40 C335.55,463.56 335.84,460.44 336.48,458.60 C337.11,456.76 338.32,455.27 339.45,454.35 C340.58,453.43 342.00,453.00 343.27,453.07 C344.55,453.15 346.25,453.71 347.10,454.77 C347.95,455.84 348.30,457.68 348.38,459.45 C348.45,461.22 348.09,463.70 347.52,465.40 C346.96,467.10 346.18,468.73 344.98,469.65 C343.77,470.57 341.65,470.93 340.30,470.93 C338.95,470.93 337.68,470.57 336.90,469.65 C336.12,468.73 335.70,467.24 335.62,465.40Z" fill="none" stroke="#8a8a8a" stroke-width="0.4"/>
<path d="M336.75,464.80 C336.69,463.28 336.93,460.72 337.45,459.20 C337.97,457.68 338.97,456.46 339.90,455.70 C340.83,454.94 342.00,454.59 343.05,454.65 C344.10,454.71 345.50,455.18 346.20,456.05 C346.90,456.93 347.19,458.44 347.25,459.90 C347.31,461.36 347.02,463.40 346.55,464.80 C346.08,466.20 345.44,467.54 344.45,468.30 C343.46,469.06 341.71,469.35 340.60,469.35 C339.49,469.35 338.44,469.06 337.80,468.30 C337.16,467.54 336.81,466.32 336.75,464.80Z" fill="none" stroke="#8a8a8a" stroke-width="0.4"/>
<path d="M337.88,464.20 C337.83,463.01 338.01,460.99 338.43,459.80 C338.84,458.61 339.62,457.65 340.35,457.05 C341.08,456.45 342.00,456.18 342.82,456.23 C343.65,456.27 344.75,456.64 345.30,457.32 C345.85,458.01 346.08,459.20 346.12,460.35 C346.17,461.50 345.94,463.10 345.57,464.20 C345.21,465.30 344.70,466.35 343.93,466.95 C343.15,467.55 341.77,467.77 340.90,467.77 C340.03,467.77 339.20,467.55 338.70,466.95 C338.20,466.35 337.92,465.39 337.88,464.20Z" fill="none" stroke="#8a8a8a" stroke-width="0.4"/>
<defs><linearGradient id="g8" gradientUnits="userSpaceOnUse" x1="0" y1="486" x2="0" y2="507"><stop offset="0" stop-color="#444"/><stop offset="0.25" stop-color="#858585"/><stop offset="0.38" stop-color="#d0d0d0"/><stop offset="0.52" stop-color="#8a8a8a"/><stop offset="1" stop-color="#5a5a5a"/></linearGradient></defs>
<path d="M324.50,506.50 C318.58,503.75 324.08,493.37 324.50,490.00 C324.92,486.63 325.58,487.08 327.00,486.30 C328.42,485.52 328.83,485.47 333.00,485.30 C337.17,485.13 347.67,485.13 352.00,485.30 C356.33,485.47 357.37,485.52 359.00,486.30 C360.63,487.08 361.33,487.72 361.80,490.00 C362.27,492.28 362.10,497.25 361.80,500.00 C361.50,502.75 366.22,505.42 360.00,506.50 C353.78,507.58 330.42,509.25 324.50,506.50Z" fill="url(#g8)" stroke="#1a1a1a" stroke-width="1.6" />
<path d="M326.35,505.45 C321.03,502.98 325.98,493.63 326.35,490.60 C326.73,487.57 327.33,487.97 328.60,487.27 C329.88,486.56 330.25,486.52 334.00,486.37 C337.75,486.22 347.20,486.22 351.10,486.37 C355.00,486.52 355.93,486.56 357.40,487.27 C358.87,487.97 359.50,488.55 359.92,490.60 C360.34,492.66 360.19,497.12 359.92,499.60 C359.65,502.08 363.89,504.48 358.30,505.45 C352.71,506.42 331.68,507.92 326.35,505.45Z" fill="none" stroke="#333" stroke-width="0.7"/>
<path d="M328.20,504.40 C323.47,502.20 327.87,493.89 328.20,491.20 C328.53,488.51 329.07,488.87 330.20,488.24 C331.33,487.61 331.67,487.57 335.00,487.44 C338.33,487.31 346.73,487.31 350.20,487.44 C353.67,487.57 354.49,487.61 355.80,488.24 C357.11,488.87 357.67,489.37 358.04,491.20 C358.41,493.03 358.28,497.00 358.04,499.20 C357.80,501.40 361.57,503.53 356.60,504.40 C351.63,505.27 332.93,506.60 328.20,504.40Z" fill="none" stroke="#333" stroke-width="0.7"/>
<rect x="330" y="492" width="28" height="2.2" rx="1" fill="#ececec" filter="url(#blur05)"/>
<path d="M329,498.5 Q343,497 358,498.5" stroke="#777" stroke-width="0.5" fill="none"/>
<path d="M330,501.5 Q343,500.5 357,501.5" stroke="#777" stroke-width="0.5" fill="none"/>
<rect x="323.3" y="506.1" width="36.69999999999999" height="2.4" rx="1.2" fill="#0a0a0a"/>
<line x1="331.60" y1="434.30" x2="331.60" y2="507.80" stroke="#333" stroke-width="0.9" />
<line x1="306.80" y1="479.30" x2="377.20" y2="479.30" stroke="#333" stroke-width="0.9" />
<rect x="306.80" y="434.30" width="70.40" height="73.50" fill="none" stroke="#8a8a8a" stroke-width="0.6"/>
<line x1="305.00" y1="441.20" x2="306.80" y2="441.20" stroke="#333" stroke-width="0.9" />
<line x1="305.00" y1="458.50" x2="306.80" y2="458.50" stroke="#333" stroke-width="0.9" />
<line x1="305.00" y1="477.80" x2="306.80" y2="477.80" stroke="#333" stroke-width="0.9" />
<line x1="305.00" y1="489.60" x2="306.80" y2="489.60" stroke="#333" stroke-width="0.9" />
<line x1="305.00" y1="501.20" x2="306.80" y2="501.20" stroke="#333" stroke-width="0.9" />
<line x1="305.80" y1="453.29" x2="306.80" y2="453.29" stroke="#555" stroke-width="0.6" />
<line x1="305.80" y1="450.25" x2="306.80" y2="450.25" stroke="#555" stroke-width="0.6" />
<line x1="305.80" y1="448.08" x2="306.80" y2="448.08" stroke="#555" stroke-width="0.6" />
<line x1="305.80" y1="446.41" x2="306.80" y2="446.41" stroke="#555" stroke-width="0.6" />
<line x1="305.80" y1="445.04" x2="306.80" y2="445.04" stroke="#555" stroke-width="0.6" />
<line x1="305.80" y1="443.88" x2="306.80" y2="443.88" stroke="#555" stroke-width="0.6" />
<line x1="305.80" y1="442.88" x2="306.80" y2="442.88" stroke="#555" stroke-width="0.6" />
<line x1="305.80" y1="441.99" x2="306.80" y2="441.99" stroke="#555" stroke-width="0.6" />
<line x1="305.80" y1="471.99" x2="306.80" y2="471.99" stroke="#555" stroke-width="0.6" />
<line x1="305.80" y1="468.59" x2="306.80" y2="468.59" stroke="#555" stroke-width="0.6" />
<line x1="305.80" y1="466.18" x2="306.80" y2="466.18" stroke="#555" stroke-width="0.6" />
<line x1="305.80" y1="464.31" x2="306.80" y2="464.31" stroke="#555" stroke-width="0.6" />
<line x1="305.80" y1="462.78" x2="306.80" y2="462.78" stroke="#555" stroke-width="0.6" />
<line x1="305.80" y1="461.49" x2="306.80" y2="461.49" stroke="#555" stroke-width="0.6" />
<line x1="305.80" y1="460.37" x2="306.80" y2="460.37" stroke="#555" stroke-width="0.6" />
<line x1="305.80" y1="459.38" x2="306.80" y2="459.38" stroke="#555" stroke-width="0.6" />
<text x="297.40" y="442.90" font-size="7.1" text-anchor="end" fill="#1e1e1e" stroke="#1e1e1e" stroke-width="0.15">10</text>
<text x="297.50" y="439.90" font-size="5.3" text-anchor="start" fill="#1e1e1e" stroke="#1e1e1e" stroke-width="0.15">5</text>
<text x="297.40" y="460.00" font-size="7.1" text-anchor="end" fill="#1e1e1e" stroke="#1e1e1e" stroke-width="0.15">10</text>
<text x="297.50" y="457.00" font-size="5.3" text-anchor="start" fill="#1e1e1e" stroke="#1e1e1e" stroke-width="0.15">4</text>
<text x="297.40" y="479.30" font-size="7.1" text-anchor="end" fill="#1e1e1e" stroke="#1e1e1e" stroke-width="0.15">10</text>
<text x="297.50" y="476.30" font-size="5.3" text-anchor="start" fill="#1e1e1e" stroke="#1e1e1e" stroke-width="0.15">3</text>
<text x="301.20" y="491.40" font-size="7.1" text-anchor="end" fill="#1e1e1e" stroke="#1e1e1e" stroke-width="0.15">0</text>
<text x="297.40" y="504.00" font-size="7.1" text-anchor="end" fill="#1e1e1e" stroke="#1e1e1e" stroke-width="0.15">&#8722;10</text>
<text x="297.50" y="501.00" font-size="5.3" text-anchor="start" fill="#1e1e1e" stroke="#1e1e1e" stroke-width="0.15">3</text>
<line x1="309.10" y1="507.80" x2="309.10" y2="509.40" stroke="#333" stroke-width="0.8" />
<line x1="322.70" y1="507.80" x2="322.70" y2="509.40" stroke="#333" stroke-width="0.8" />
<line x1="333.35" y1="507.80" x2="333.35" y2="509.40" stroke="#333" stroke-width="0.8" />
<line x1="353.75" y1="507.80" x2="353.75" y2="509.40" stroke="#333" stroke-width="0.8" />
<line x1="370.10" y1="507.80" x2="370.10" y2="509.40" stroke="#333" stroke-width="0.8" />
<text x="313.05" y="518.90" font-size="7.1" text-anchor="end" fill="#1e1e1e" stroke="#1e1e1e" stroke-width="0.15">&#8722;10</text>
<text x="313.15" y="515.90" font-size="5.3" text-anchor="start" fill="#1e1e1e" stroke="#1e1e1e" stroke-width="0.15">3</text>
<text x="322.70" y="518.90" font-size="7.1" text-anchor="middle" fill="#1e1e1e" stroke="#1e1e1e" stroke-width="0.15">0</text>
<text x="337.30" y="518.90" font-size="7.1" text-anchor="end" fill="#1e1e1e" stroke="#1e1e1e" stroke-width="0.15">10</text>
<text x="337.40" y="515.90" font-size="5.3" text-anchor="start" fill="#1e1e1e" stroke="#1e1e1e" stroke-width="0.15">3</text>
<text x="357.70" y="518.90" font-size="7.1" text-anchor="end" fill="#1e1e1e" stroke="#1e1e1e" stroke-width="0.15">10</text>
<text x="357.80" y="515.90" font-size="5.3" text-anchor="start" fill="#1e1e1e" stroke="#1e1e1e" stroke-width="0.15">4</text>
<text x="374.05" y="518.90" font-size="7.1" text-anchor="end" fill="#1e1e1e" stroke="#1e1e1e" stroke-width="0.15">10</text>
<text x="374.15" y="515.90" font-size="5.3" text-anchor="start" fill="#1e1e1e" stroke="#1e1e1e" stroke-width="0.15">5</text>
<rect x="305.20" y="488.5" width="1.6" height="3" fill="#111"/>
<text x="308.30" y="439.80" font-size="5.0" text-anchor="start" font-weight="normal" fill="#222" stroke="#222" stroke-width="0.18" >Q5</text>
<text x="308.30" y="445.30" font-size="5.0" text-anchor="start" font-weight="normal" fill="#222" stroke="#222" stroke-width="0.18" >0.42</text>
<text x="319.00" y="456.30" font-size="5.0" text-anchor="middle" font-weight="normal" fill="#222" stroke="#222" stroke-width="0.18" >Lin-ckit+</text>
<text x="319.00" y="461.60" font-size="5.0" text-anchor="middle" font-weight="normal" fill="#222" stroke="#222" stroke-width="0.18" >0.40</text>
<text x="374.60" y="439.80" font-size="5.0" text-anchor="end" font-weight="normal" fill="#222" stroke="#222" stroke-width="0.18" >Q6</text>
<text x="374.60" y="445.30" font-size="5.0" text-anchor="end" font-weight="normal" fill="#222" stroke="#222" stroke-width="0.18" >21.8</text>
<text x="375.20" y="459.30" font-size="5.0" text-anchor="end" font-weight="normal" fill="#222" stroke="#222" stroke-width="0.18" >ckit+</text>
<text x="374.80" y="464.80" font-size="5.0" text-anchor="end" font-weight="normal" fill="#222" stroke="#222" stroke-width="0.18" >22.2</text>
<text x="308.30" y="499.20" font-size="5.0" text-anchor="start" font-weight="normal" fill="#222" stroke="#222" stroke-width="0.18" >Q8</text>
<text x="308.30" y="504.80" font-size="5.0" text-anchor="start" font-weight="normal" fill="#222" stroke="#222" stroke-width="0.18" >8.52</text>
<text x="375.00" y="499.20" font-size="5.0" text-anchor="end" font-weight="normal" fill="#222" stroke="#222" stroke-width="0.18" >Q7</text>
<text x="375.00" y="504.80" font-size="5.0" text-anchor="end" font-weight="normal" fill="#222" stroke="#222" stroke-width="0.18" >69.3</text>
<text x="401.10" y="421.30" font-size="10.7" text-anchor="start" font-weight="bold" fill="#000" stroke="#000" stroke-width="0" >M</text>
<text x="475.00" y="429.10" font-size="9.5" text-anchor="middle" font-weight="normal" fill="#1e1e1e" stroke="#1e1e1e" stroke-width="0.18" >KO MI-503</text>
<ellipse cx="479" cy="462" rx="17" ry="18" transform="rotate(0 479 462)" fill="#e3e3e3" filter="url(#blur2)"/>
<ellipse cx="481" cy="496" rx="20" ry="14" transform="rotate(0 481 496)" fill="#e3e3e3" filter="url(#blur2)"/>
<defs><linearGradient id="g9" gradientUnits="userSpaceOnUse" x1="466" y1="448" x2="490" y2="474"><stop offset="0" stop-color="#7a7a7a"/><stop offset="0.45" stop-color="#b0b0b0"/><stop offset="1" stop-color="#dcdcdc"/></linearGradient></defs>
<path d="M466.00,470.00 C464.92,467.17 466.08,462.25 466.50,459.00 C466.92,455.75 467.25,452.53 468.50,450.50 C469.75,448.47 471.75,447.47 474.00,446.80 C476.25,446.13 479.50,446.13 482.00,446.50 C484.50,446.87 487.25,447.58 489.00,449.00 C490.75,450.42 492.00,452.67 492.50,455.00 C493.00,457.33 492.58,460.50 492.00,463.00 C491.42,465.50 490.67,467.92 489.00,470.00 C487.33,472.08 484.67,474.50 482.00,475.50 C479.33,476.50 475.67,476.92 473.00,476.00 C470.33,475.08 467.08,472.83 466.00,470.00Z" fill="url(#g9)" stroke="#777" stroke-width="0.6" />
<path d="M467.20,468.80 C466.25,466.31 467.27,461.98 467.64,459.12 C468.01,456.26 468.30,453.43 469.40,451.64 C470.50,449.85 472.26,448.97 474.24,448.38 C476.22,447.80 479.08,447.80 481.28,448.12 C483.48,448.44 485.90,449.07 487.44,450.32 C488.98,451.57 490.08,453.55 490.52,455.60 C490.96,457.65 490.59,460.44 490.08,462.64 C489.57,464.84 488.91,466.97 487.44,468.80 C485.97,470.63 483.63,472.76 481.28,473.64 C478.93,474.52 475.71,474.89 473.36,474.08 C471.01,473.27 468.15,471.29 467.20,468.80Z" fill="none" stroke="#8c8c8c" stroke-width="0.4"/>
<path d="M468.40,467.60 C467.58,465.45 468.46,461.71 468.78,459.24 C469.10,456.77 469.35,454.33 470.30,452.78 C471.25,451.23 472.77,450.47 474.48,449.97 C476.19,449.46 478.66,449.46 480.56,449.74 C482.46,450.02 484.55,450.56 485.88,451.64 C487.21,452.72 488.16,454.43 488.54,456.20 C488.92,457.97 488.60,460.38 488.16,462.28 C487.72,464.18 487.15,466.02 485.88,467.60 C484.61,469.18 482.59,471.02 480.56,471.78 C478.53,472.54 475.75,472.86 473.72,472.16 C471.69,471.46 469.22,469.75 468.40,467.60Z" fill="none" stroke="#8c8c8c" stroke-width="0.4"/>
<path d="M469.60,466.40 C468.91,464.59 469.65,461.44 469.92,459.36 C470.19,457.28 470.40,455.22 471.20,453.92 C472.00,452.62 473.28,451.98 474.72,451.55 C476.16,451.13 478.24,451.13 479.84,451.36 C481.44,451.59 483.20,452.05 484.32,452.96 C485.44,453.87 486.24,455.31 486.56,456.80 C486.88,458.29 486.61,460.32 486.24,461.92 C485.87,463.52 485.39,465.07 484.32,466.40 C483.25,467.73 481.55,469.28 479.84,469.92 C478.13,470.56 475.79,470.83 474.08,470.24 C472.37,469.65 470.29,468.21 469.60,466.40Z" fill="none" stroke="#8c8c8c" stroke-width="0.4"/>
<path d="M470.80,465.20 C470.24,463.73 470.84,461.17 471.06,459.48 C471.28,457.79 471.45,456.12 472.10,455.06 C472.75,454.00 473.79,453.48 474.96,453.14 C476.13,452.79 477.82,452.79 479.12,452.98 C480.42,453.17 481.85,453.54 482.76,454.28 C483.67,455.02 484.32,456.19 484.58,457.40 C484.84,458.61 484.62,460.26 484.32,461.56 C484.02,462.86 483.63,464.12 482.76,465.20 C481.89,466.28 480.51,467.54 479.12,468.06 C477.73,468.58 475.83,468.80 474.44,468.32 C473.05,467.84 471.36,466.67 470.80,465.20Z" fill="none" stroke="#8c8c8c" stroke-width="0.4"/>
<defs><radialGradient id="g10" gradientUnits="userSpaceOnUse" cx="474.5" cy="457.9" r="6.5" gradientTransform="translate(474.5 457.9) rotate(8) scale(0.75 1.0) translate(-474.5 -457.9)"><stop offset="0" stop-color="#f2f2f2"/><stop offset="0.3" stop-color="#ddd"/><stop offset="0.55" stop-color="#555"/><stop offset="0.8" stop-color="#262626"/><stop offset="1" stop-color="#333"/></radialGradient></defs>
<path d="M478.53,458.65 C478.35,459.70 477.92,460.85 477.41,461.70 C476.90,462.55 476.16,463.31 475.45,463.73 C474.75,464.15 473.89,464.33 473.19,464.20 C472.48,464.08 471.74,463.62 471.22,462.99 C470.70,462.35 470.27,461.38 470.08,460.40 C469.88,459.43 469.88,458.20 470.07,457.15 C470.25,456.10 470.68,454.95 471.19,454.10 C471.70,453.25 472.44,452.49 473.15,452.07 C473.85,451.65 474.71,451.47 475.41,451.60 C476.12,451.72 476.86,452.18 477.38,452.81 C477.90,453.45 478.33,454.42 478.52,455.40 C478.72,456.37 478.72,457.60 478.53,458.65Z" fill="url(#g10)" stroke="#2a2a2a" stroke-width="0.6" />
<defs><linearGradient id="g11" gradientUnits="userSpaceOnUse" x1="464" y1="0" x2="496" y2="0"><stop offset="0" stop-color="#cfcfcf"/><stop offset="0.5" stop-color="#aaa"/><stop offset="1" stop-color="#888"/></linearGradient></defs>
<path d="M464.50,503.00 C463.75,500.83 464.75,496.67 465.50,494.00 C466.25,491.33 467.25,488.83 469.00,487.00 C470.75,485.17 473.33,483.75 476.00,483.00 C478.67,482.25 482.33,482.17 485.00,482.50 C487.67,482.83 490.25,483.58 492.00,485.00 C493.75,486.42 494.92,488.50 495.50,491.00 C496.08,493.50 495.92,497.42 495.50,500.00 C495.08,502.58 497.25,505.33 493.00,506.50 C488.75,507.67 474.75,507.58 470.00,507.00 C465.25,506.42 465.25,505.17 464.50,503.00Z" fill="url(#g11)" stroke="#777" stroke-width="0.6" />
<path d="M466.84,502.16 C466.18,500.25 467.06,496.59 467.72,494.24 C468.38,491.89 469.26,489.69 470.80,488.08 C472.34,486.47 474.61,485.22 476.96,484.56 C479.31,483.90 482.53,483.83 484.88,484.12 C487.23,484.41 489.50,485.07 491.04,486.32 C492.58,487.57 493.61,489.40 494.12,491.60 C494.63,493.80 494.49,497.25 494.12,499.52 C493.75,501.79 495.66,504.21 491.92,505.24 C488.18,506.27 475.86,506.19 471.68,505.68 C467.50,505.17 467.50,504.07 466.84,502.16Z" fill="none" stroke="#8a8a8a" stroke-width="0.4"/>
<path d="M469.18,501.32 C468.61,499.67 469.37,496.51 469.94,494.48 C470.51,492.45 471.27,490.55 472.60,489.16 C473.93,487.77 475.89,486.69 477.92,486.12 C479.95,485.55 482.73,485.49 484.76,485.74 C486.79,485.99 488.75,486.56 490.08,487.64 C491.41,488.72 492.30,490.30 492.74,492.20 C493.18,494.10 493.06,497.08 492.74,499.04 C492.42,501.00 494.07,503.09 490.84,503.98 C487.61,504.87 476.97,504.80 473.36,504.36 C469.75,503.92 469.75,502.97 469.18,501.32Z" fill="none" stroke="#8a8a8a" stroke-width="0.4"/>
<path d="M471.52,500.48 C471.04,499.09 471.68,496.43 472.16,494.72 C472.64,493.01 473.28,491.41 474.40,490.24 C475.52,489.07 477.17,488.16 478.88,487.68 C480.59,487.20 482.93,487.15 484.64,487.36 C486.35,487.57 488.00,488.05 489.12,488.96 C490.24,489.87 490.99,491.20 491.36,492.80 C491.73,494.40 491.63,496.91 491.36,498.56 C491.09,500.21 492.48,501.97 489.76,502.72 C487.04,503.47 478.08,503.41 475.04,503.04 C472.00,502.67 472.00,501.87 471.52,500.48Z" fill="none" stroke="#8a8a8a" stroke-width="0.4"/>
<defs><radialGradient id="g12" gradientUnits="userSpaceOnUse" cx="487.6" cy="496.2" r="7.6" gradientTransform="translate(487.6 496.2) rotate(0) scale(1.0 1.0) translate(-487.6 -496.2)"><stop offset="0" stop-color="#e8e8e8"/><stop offset="0.45" stop-color="#cfcfcf"/><stop offset="0.65" stop-color="#555"/><stop offset="0.85" stop-color="#222"/><stop offset="1" stop-color="#333"/></radialGradient></defs>
<path d="M494.60,495.80 C494.60,497.07 494.24,498.50 493.64,499.60 C493.04,500.70 492.04,501.75 491.00,502.38 C489.96,503.02 488.60,503.40 487.40,503.40 C486.20,503.40 484.84,503.02 483.80,502.38 C482.76,501.75 481.76,500.70 481.16,499.60 C480.56,498.50 480.20,497.07 480.20,495.80 C480.20,494.53 480.56,493.10 481.16,492.00 C481.76,490.90 482.76,489.85 483.80,489.22 C484.84,488.58 486.20,488.20 487.40,488.20 C488.60,488.20 489.96,488.58 491.00,489.22 C492.04,489.85 493.04,490.90 493.64,492.00 C494.24,493.10 494.60,494.53 494.60,495.80Z" fill="url(#g12)" stroke="#222" stroke-width="0.7" />
<rect x="456" y="506.1" width="42" height="2.4" rx="1.2" fill="#0a0a0a"/>
<line x1="463.40" y1="434.30" x2="463.40" y2="507.80" stroke="#333" stroke-width="0.9" />
<line x1="438.60" y1="479.30" x2="509.60" y2="479.30" stroke="#333" stroke-width="0.9" />
<rect x="438.60" y="434.30" width="71.00" height="73.50" fill="none" stroke="#8a8a8a" stroke-width="0.6"/>
<line x1="436.80" y1="441.20" x2="438.60" y2="441.20" stroke="#333" stroke-width="0.9" />
<line x1="436.80" y1="458.50" x2="438.60" y2="458.50" stroke="#333" stroke-width="0.9" />
<line x1="436.80" y1="477.80" x2="438.60" y2="477.80" stroke="#333" stroke-width="0.9" />
<line x1="436.80" y1="489.60" x2="438.60" y2="489.60" stroke="#333" stroke-width="0.9" />
<line x1="436.80" y1="501.20" x2="438.60" y2="501.20" stroke="#333" stroke-width="0.9" />
<line x1="437.60" y1="453.29" x2="438.60" y2="453.29" stroke="#555" stroke-width="0.6" />
<line x1="437.60" y1="450.25" x2="438.60" y2="450.25" stroke="#555" stroke-width="0.6" />
<line x1="437.60" y1="448.08" x2="438.60" y2="448.08" stroke="#555" stroke-width="0.6" />
<line x1="437.60" y1="446.41" x2="438.60" y2="446.41" stroke="#555" stroke-width="0.6" />
<line x1="437.60" y1="445.04" x2="438.60" y2="445.04" stroke="#555" stroke-width="0.6" />
<line x1="437.60" y1="443.88" x2="438.60" y2="443.88" stroke="#555" stroke-width="0.6" />
<line x1="437.60" y1="442.88" x2="438.60" y2="442.88" stroke="#555" stroke-width="0.6" />
<line x1="437.60" y1="441.99" x2="438.60" y2="441.99" stroke="#555" stroke-width="0.6" />
<line x1="437.60" y1="471.99" x2="438.60" y2="471.99" stroke="#555" stroke-width="0.6" />
<line x1="437.60" y1="468.59" x2="438.60" y2="468.59" stroke="#555" stroke-width="0.6" />
<line x1="437.60" y1="466.18" x2="438.60" y2="466.18" stroke="#555" stroke-width="0.6" />
<line x1="437.60" y1="464.31" x2="438.60" y2="464.31" stroke="#555" stroke-width="0.6" />
<line x1="437.60" y1="462.78" x2="438.60" y2="462.78" stroke="#555" stroke-width="0.6" />
<line x1="437.60" y1="461.49" x2="438.60" y2="461.49" stroke="#555" stroke-width="0.6" />
<line x1="437.60" y1="460.37" x2="438.60" y2="460.37" stroke="#555" stroke-width="0.6" />
<line x1="437.60" y1="459.38" x2="438.60" y2="459.38" stroke="#555" stroke-width="0.6" />
<text x="429.20" y="442.90" font-size="7.1" text-anchor="end" fill="#1e1e1e" stroke="#1e1e1e" stroke-width="0.15">10</text>
<text x="429.30" y="439.90" font-size="5.3" text-anchor="start" fill="#1e1e1e" stroke="#1e1e1e" stroke-width="0.15">5</text>
<text x="429.20" y="460.00" font-size="7.1" text-anchor="end" fill="#1e1e1e" stroke="#1e1e1e" stroke-width="0.15">10</text>
<text x="429.30" y="457.00" font-size="5.3" text-anchor="start" fill="#1e1e1e" stroke="#1e1e1e" stroke-width="0.15">4</text>
<text x="429.20" y="479.30" font-size="7.1" text-anchor="end" fill="#1e1e1e" stroke="#1e1e1e" stroke-width="0.15">10</text>
<text x="429.30" y="476.30" font-size="5.3" text-anchor="start" fill="#1e1e1e" stroke="#1e1e1e" stroke-width="0.15">3</text>
<text x="433.00" y="491.40" font-size="7.1" text-anchor="end" fill="#1e1e1e" stroke="#1e1e1e" stroke-width="0.15">0</text>
<text x="429.20" y="504.00" font-size="7.1" text-anchor="end" fill="#1e1e1e" stroke="#1e1e1e" stroke-width="0.15">&#8722;10</text>
<text x="429.30" y="501.00" font-size="5.3" text-anchor="start" fill="#1e1e1e" stroke="#1e1e1e" stroke-width="0.15">3</text>
<line x1="440.90" y1="507.80" x2="440.90" y2="509.40" stroke="#333" stroke-width="0.8" />
<line x1="454.50" y1="507.80" x2="454.50" y2="509.40" stroke="#333" stroke-width="0.8" />
<line x1="465.15" y1="507.80" x2="465.15" y2="509.40" stroke="#333" stroke-width="0.8" />
<line x1="485.55" y1="507.80" x2="485.55" y2="509.40" stroke="#333" stroke-width="0.8" />
<line x1="501.90" y1="507.80" x2="501.90" y2="509.40" stroke="#333" stroke-width="0.8" />
<text x="444.85" y="518.90" font-size="7.1" text-anchor="end" fill="#1e1e1e" stroke="#1e1e1e" stroke-width="0.15">&#8722;10</text>
<text x="444.95" y="515.90" font-size="5.3" text-anchor="start" fill="#1e1e1e" stroke="#1e1e1e" stroke-width="0.15">3</text>
<text x="454.50" y="518.90" font-size="7.1" text-anchor="middle" fill="#1e1e1e" stroke="#1e1e1e" stroke-width="0.15">0</text>
<text x="469.10" y="518.90" font-size="7.1" text-anchor="end" fill="#1e1e1e" stroke="#1e1e1e" stroke-width="0.15">10</text>
<text x="469.20" y="515.90" font-size="5.3" text-anchor="start" fill="#1e1e1e" stroke="#1e1e1e" stroke-width="0.15">3</text>
<text x="489.50" y="518.90" font-size="7.1" text-anchor="end" fill="#1e1e1e" stroke="#1e1e1e" stroke-width="0.15">10</text>
<text x="489.60" y="515.90" font-size="5.3" text-anchor="start" fill="#1e1e1e" stroke="#1e1e1e" stroke-width="0.15">4</text>
<text x="505.85" y="518.90" font-size="7.1" text-anchor="end" fill="#1e1e1e" stroke="#1e1e1e" stroke-width="0.15">10</text>
<text x="505.95" y="515.90" font-size="5.3" text-anchor="start" fill="#1e1e1e" stroke="#1e1e1e" stroke-width="0.15">5</text>
<rect x="437.00" y="488.5" width="1.6" height="3" fill="#111"/>
<text x="440.10" y="439.80" font-size="5.0" text-anchor="start" font-weight="normal" fill="#222" stroke="#222" stroke-width="0.18" >Q5</text>
<text x="440.10" y="445.30" font-size="5.0" text-anchor="start" font-weight="normal" fill="#222" stroke="#222" stroke-width="0.18" >0.20</text>
<text x="450.80" y="456.50" font-size="5.0" text-anchor="middle" font-weight="normal" fill="#222" stroke="#222" stroke-width="0.18" >Lin-ckit+</text>
<text x="450.80" y="461.80" font-size="5.0" text-anchor="middle" font-weight="normal" fill="#222" stroke="#222" stroke-width="0.18" >0.19</text>
<text x="507.00" y="439.80" font-size="5.0" text-anchor="end" font-weight="normal" fill="#222" stroke="#222" stroke-width="0.18" >Q6</text>
<text x="507.00" y="445.30" font-size="5.0" text-anchor="end" font-weight="normal" fill="#222" stroke="#222" stroke-width="0.18" >21.8</text>
<text x="507.60" y="463.10" font-size="5.0" text-anchor="end" font-weight="normal" fill="#222" stroke="#222" stroke-width="0.18" >ckit+</text>
<text x="507.20" y="468.60" font-size="5.0" text-anchor="end" font-weight="normal" fill="#222" stroke="#222" stroke-width="0.18" >22.0</text>
<text x="440.10" y="499.20" font-size="5.0" text-anchor="start" font-weight="normal" fill="#222" stroke="#222" stroke-width="0.18" >Q8</text>
<text x="440.10" y="504.80" font-size="5.0" text-anchor="start" font-weight="normal" fill="#222" stroke="#222" stroke-width="0.18" >3.00</text>
<text x="507.60" y="499.20" font-size="5.0" text-anchor="end" font-weight="normal" fill="#222" stroke="#222" stroke-width="0.18" >Q7</text>
<text x="507.60" y="504.80" font-size="5.0" text-anchor="end" font-weight="normal" fill="#222" stroke="#222" stroke-width="0.18" >75.1</text>
<line x1="22" y1="525" x2="22" y2="468" stroke="#111" stroke-width="1.1"/>
<path d="M22,465 L19.8,470.5 L24.2,470.5 Z" fill="#111"/>
<line x1="22" y1="525" x2="72" y2="525" stroke="#111" stroke-width="1.1"/>
<path d="M75.5,525 L70,522.8 L70,527.2 Z" fill="#111"/>
<text x="0" y="0" font-size="9.6" font-weight="bold" text-anchor="middle" fill="#1e1e1e" textLength="10.4" lengthAdjust="spacingAndGlyphs" transform="translate(15.0,497.3) rotate(-90)">ckit</text>
<text x="47.4" y="535.8" font-size="9.6" font-weight="bold" text-anchor="middle" fill="#1e1e1e" textLength="9.0" lengthAdjust="spacingAndGlyphs">Lin</text>
<text x="266.10" y="556.90" font-size="10.7" text-anchor="start" font-weight="bold" fill="#000" stroke="#000" stroke-width="0" >P</text>
<rect x="306.50" y="559.20" width="75.30" height="68.80" fill="none" stroke="#8a8a8a" stroke-width="0.6"/>
<line x1="304.70" y1="565.60" x2="306.50" y2="565.60" stroke="#333" stroke-width="0.9" />
<line x1="304.70" y1="582.40" x2="306.50" y2="582.40" stroke="#333" stroke-width="0.9" />
<line x1="304.70" y1="601.30" x2="306.50" y2="601.30" stroke="#333" stroke-width="0.9" />
<line x1="304.70" y1="613.30" x2="306.50" y2="613.30" stroke="#333" stroke-width="0.9" />
<line x1="304.70" y1="624.10" x2="306.50" y2="624.10" stroke="#333" stroke-width="0.9" />
<text x="296.50" y="569.40" font-size="7.1" text-anchor="end" fill="#1e1e1e" stroke="#1e1e1e" stroke-width="0.15">10</text>
<text x="296.60" y="566.40" font-size="5.3" text-anchor="start" fill="#1e1e1e" stroke="#1e1e1e" stroke-width="0.15">5</text>
<text x="296.50" y="586.40" font-size="7.1" text-anchor="end" fill="#1e1e1e" stroke="#1e1e1e" stroke-width="0.15">10</text>
<text x="296.60" y="583.40" font-size="5.3" text-anchor="start" fill="#1e1e1e" stroke="#1e1e1e" stroke-width="0.15">4</text>
<text x="296.50" y="605.50" font-size="7.1" text-anchor="end" fill="#1e1e1e" stroke="#1e1e1e" stroke-width="0.15">10</text>
<text x="296.60" y="602.50" font-size="5.3" text-anchor="start" fill="#1e1e1e" stroke="#1e1e1e" stroke-width="0.15">3</text>
<text x="300.70" y="617.00" font-size="7.1" text-anchor="end" fill="#1e1e1e" stroke="#1e1e1e" stroke-width="0.15">0</text>
<text x="296.50" y="627.30" font-size="7.1" text-anchor="end" fill="#1e1e1e" stroke="#1e1e1e" stroke-width="0.15">10</text>
<text x="296.60" y="624.30" font-size="5.3" text-anchor="start" fill="#1e1e1e" stroke="#1e1e1e" stroke-width="0.15">&#8722;3</text>
<line x1="306.85" y1="628.00" x2="306.85" y2="629.60" stroke="#333" stroke-width="0.8" />
<line x1="323.90" y1="628.00" x2="323.90" y2="629.60" stroke="#333" stroke-width="0.8" />
<line x1="334.45" y1="628.00" x2="334.45" y2="629.60" stroke="#333" stroke-width="0.8" />
<line x1="355.25" y1="628.00" x2="355.25" y2="629.60" stroke="#333" stroke-width="0.8" />
<line x1="371.55" y1="628.00" x2="371.55" y2="629.60" stroke="#333" stroke-width="0.8" />
<text x="310.80" y="640.50" font-size="7.1" text-anchor="end" fill="#1e1e1e" stroke="#1e1e1e" stroke-width="0.15">10</text>
<text x="310.90" y="637.50" font-size="5.3" text-anchor="start" fill="#1e1e1e" stroke="#1e1e1e" stroke-width="0.15">&#8722;3</text>
<text x="323.90" y="640.50" font-size="7.1" text-anchor="middle" fill="#1e1e1e" stroke="#1e1e1e" stroke-width="0.15">0</text>
<text x="338.40" y="640.50" font-size="7.1" text-anchor="end" fill="#1e1e1e" stroke="#1e1e1e" stroke-width="0.15">10</text>
<text x="338.50" y="637.50" font-size="5.3" text-anchor="start" fill="#1e1e1e" stroke="#1e1e1e" stroke-width="0.15">3</text>
<text x="359.20" y="640.50" font-size="7.1" text-anchor="end" fill="#1e1e1e" stroke="#1e1e1e" stroke-width="0.15">10</text>
<text x="359.30" y="637.50" font-size="5.3" text-anchor="start" fill="#1e1e1e" stroke="#1e1e1e" stroke-width="0.15">4</text>
<text x="375.50" y="640.50" font-size="7.1" text-anchor="end" fill="#1e1e1e" stroke="#1e1e1e" stroke-width="0.15">10</text>
<text x="375.60" y="637.50" font-size="5.3" text-anchor="start" fill="#1e1e1e" stroke="#1e1e1e" stroke-width="0.15">5</text>
<rect x="304.90" y="612" width="1.6" height="3" fill="#111"/>
<rect x="322.50" y="627.6" width="3" height="1.6" fill="#111"/>
<g filter="url(#blur2)"><ellipse cx="336" cy="594" rx="30" ry="16" transform="rotate(-50 336 594)" fill="#e4efe6"/></g>
<g filter="url(#blur1)">
<ellipse cx="339" cy="594" rx="26" ry="12.5" transform="rotate(-50 339 594)" fill="#bfe3bb"/>
<ellipse cx="335.5" cy="596" rx="23" ry="10.5" transform="rotate(-54 335.5 596)" fill="#7cc47f"/>
<ellipse cx="331.5" cy="593" rx="24" ry="11.2" transform="rotate(-57 331.5 593)" fill="#94c4ec"/>
<ellipse cx="333" cy="592" rx="20" ry="8.5" transform="rotate(-60 333 592)" fill="#6eaae2"/>
<ellipse cx="336.5" cy="589.5" rx="14" ry="4.2" transform="rotate(-63 336.5 589.5)" fill="#4a8ecf"/>
<ellipse cx="324" cy="600" rx="7" ry="2.5" transform="rotate(-60 324 600)" fill="#c2def3"/>
</g>
<line x1="351.50" y1="614.80" x2="356.50" y2="614.80" stroke="#4caf50" stroke-width="1.3" />
<text x="359.00" y="617.30" font-size="7.2" text-anchor="start" font-weight="normal" fill="#1e1e1e" stroke="#1e1e1e" stroke-width="0.18" >NT</text>
<line x1="351.50" y1="622.80" x2="356.50" y2="622.80" stroke="#5aa8e0" stroke-width="1.3" />
<text x="359.00" y="625.30" font-size="7.2" text-anchor="start" font-weight="normal" fill="#1e1e1e" stroke="#1e1e1e" stroke-width="0.18" >I3KO</text>
<line x1="282.5" y1="645" x2="282.5" y2="593" stroke="#111" stroke-width="1.1"/>
<path d="M282.5,589.5 L280.3,595 L284.7,595 Z" fill="#111"/>
<line x1="282.5" y1="645" x2="330" y2="645" stroke="#111" stroke-width="1.1"/>
<path d="M333.5,645 L328,642.8 L328,647.2 Z" fill="#111"/>
<text x="0" y="0" font-size="9.4" font-weight="bold" text-anchor="middle" fill="#1e1e1e" textLength="30" lengthAdjust="spacingAndGlyphs" transform="translate(276.0,616.5) rotate(-90)">CD 16/32</text>
<text x="304.2" y="656.8" font-size="9.6" font-weight="bold" text-anchor="middle" fill="#1e1e1e" textLength="14.7" lengthAdjust="spacingAndGlyphs">CD34</text>
<text x="401.45" y="556.90" font-size="10.7" text-anchor="start" font-weight="bold" fill="#000" stroke="#000" stroke-width="0" >Q</text>
<rect x="438.70" y="559.20" width="74.50" height="68.80" fill="none" stroke="#8a8a8a" stroke-width="0.6"/>
<line x1="436.90" y1="565.60" x2="438.70" y2="565.60" stroke="#333" stroke-width="0.9" />
<line x1="436.90" y1="582.40" x2="438.70" y2="582.40" stroke="#333" stroke-width="0.9" />
<line x1="436.90" y1="601.30" x2="438.70" y2="601.30" stroke="#333" stroke-width="0.9" />
<line x1="436.90" y1="613.30" x2="438.70" y2="613.30" stroke="#333" stroke-width="0.9" />
<line x1="436.90" y1="624.10" x2="438.70" y2="624.10" stroke="#333" stroke-width="0.9" />
<text x="428.70" y="569.40" font-size="7.1" text-anchor="end" fill="#1e1e1e" stroke="#1e1e1e" stroke-width="0.15">10</text>
<text x="428.80" y="566.40" font-size="5.3" text-anchor="start" fill="#1e1e1e" stroke="#1e1e1e" stroke-width="0.15">5</text>
<text x="428.70" y="586.40" font-size="7.1" text-anchor="end" fill="#1e1e1e" stroke="#1e1e1e" stroke-width="0.15">10</text>
<text x="428.80" y="583.40" font-size="5.3" text-anchor="start" fill="#1e1e1e" stroke="#1e1e1e" stroke-width="0.15">4</text>
<text x="428.70" y="605.50" font-size="7.1" text-anchor="end" fill="#1e1e1e" stroke="#1e1e1e" stroke-width="0.15">10</text>
<text x="428.80" y="602.50" font-size="5.3" text-anchor="start" fill="#1e1e1e" stroke="#1e1e1e" stroke-width="0.15">3</text>
<text x="432.90" y="617.00" font-size="7.1" text-anchor="end" fill="#1e1e1e" stroke="#1e1e1e" stroke-width="0.15">0</text>
<text x="428.70" y="627.30" font-size="7.1" text-anchor="end" fill="#1e1e1e" stroke="#1e1e1e" stroke-width="0.15">10</text>
<text x="428.80" y="624.30" font-size="5.3" text-anchor="start" fill="#1e1e1e" stroke="#1e1e1e" stroke-width="0.15">&#8722;3</text>
<line x1="439.15" y1="628.00" x2="439.15" y2="629.60" stroke="#333" stroke-width="0.8" />
<line x1="456.20" y1="628.00" x2="456.20" y2="629.60" stroke="#333" stroke-width="0.8" />
<line x1="466.75" y1="628.00" x2="466.75" y2="629.60" stroke="#333" stroke-width="0.8" />
<line x1="487.55" y1="628.00" x2="487.55" y2="629.60" stroke="#333" stroke-width="0.8" />
<line x1="503.85" y1="628.00" x2="503.85" y2="629.60" stroke="#333" stroke-width="0.8" />
<text x="443.10" y="640.50" font-size="7.1" text-anchor="end" fill="#1e1e1e" stroke="#1e1e1e" stroke-width="0.15">10</text>
<text x="443.20" y="637.50" font-size="5.3" text-anchor="start" fill="#1e1e1e" stroke="#1e1e1e" stroke-width="0.15">&#8722;3</text>
<text x="456.20" y="640.50" font-size="7.1" text-anchor="middle" fill="#1e1e1e" stroke="#1e1e1e" stroke-width="0.15">0</text>
<text x="470.70" y="640.50" font-size="7.1" text-anchor="end" fill="#1e1e1e" stroke="#1e1e1e" stroke-width="0.15">10</text>
<text x="470.80" y="637.50" font-size="5.3" text-anchor="start" fill="#1e1e1e" stroke="#1e1e1e" stroke-width="0.15">3</text>
<text x="491.50" y="640.50" font-size="7.1" text-anchor="end" fill="#1e1e1e" stroke="#1e1e1e" stroke-width="0.15">10</text>
<text x="491.60" y="637.50" font-size="5.3" text-anchor="start" fill="#1e1e1e" stroke="#1e1e1e" stroke-width="0.15">4</text>
<text x="507.80" y="640.50" font-size="7.1" text-anchor="end" fill="#1e1e1e" stroke="#1e1e1e" stroke-width="0.15">10</text>
<text x="507.90" y="637.50" font-size="5.3" text-anchor="start" fill="#1e1e1e" stroke="#1e1e1e" stroke-width="0.15">5</text>
<rect x="437.10" y="612" width="1.6" height="3" fill="#111"/>
<rect x="454.70" y="627.6" width="3" height="1.6" fill="#111"/>
<g filter="url(#blur2)"><ellipse cx="469" cy="594" rx="29" ry="15" transform="rotate(-52 469 594)" fill="#eaf1ec"/></g>
<g filter="url(#blur1)">
<ellipse cx="466" cy="598" rx="22" ry="10.5" transform="rotate(-55 466 598)" fill="#98d8b0"/>
<ellipse cx="463" cy="602" rx="15" ry="8" transform="rotate(-50 463 602)" fill="#62c291"/>
<ellipse cx="475" cy="584" rx="16" ry="9.5" transform="rotate(-35 475 584)" fill="#f2a7a4" opacity="0.9"/>
<ellipse cx="473" cy="585" rx="11.5" ry="7.5" transform="rotate(-40 473 585)" fill="#e3605e"/>
</g>
<line x1="479.00" y1="615.20" x2="485.00" y2="615.20" stroke="#5aa870" stroke-width="1.4" />
<text x="487.80" y="617.80" font-size="7.2" text-anchor="start" font-weight="normal" fill="#1e1e1e" stroke="#1e1e1e" stroke-width="0.18" >DMSO</text>
<line x1="479.00" y1="623.60" x2="485.00" y2="623.60" stroke="#b04a68" stroke-width="1.4" />
<text x="487.80" y="626.20" font-size="7.2" text-anchor="start" font-weight="normal" fill="#1e1e1e" stroke="#1e1e1e" stroke-width="0.18" >MI-503</text>
</svg>
<svg width="520" height="665" viewBox="0 0 520 665" style="position:absolute;left:0;top:0"><rect x="0.6" y="0.6" width="518.8" height="663.8" fill="none" stroke="#5e5e5e" stroke-width="1.25"/></svg>
</div>
</body></html>
